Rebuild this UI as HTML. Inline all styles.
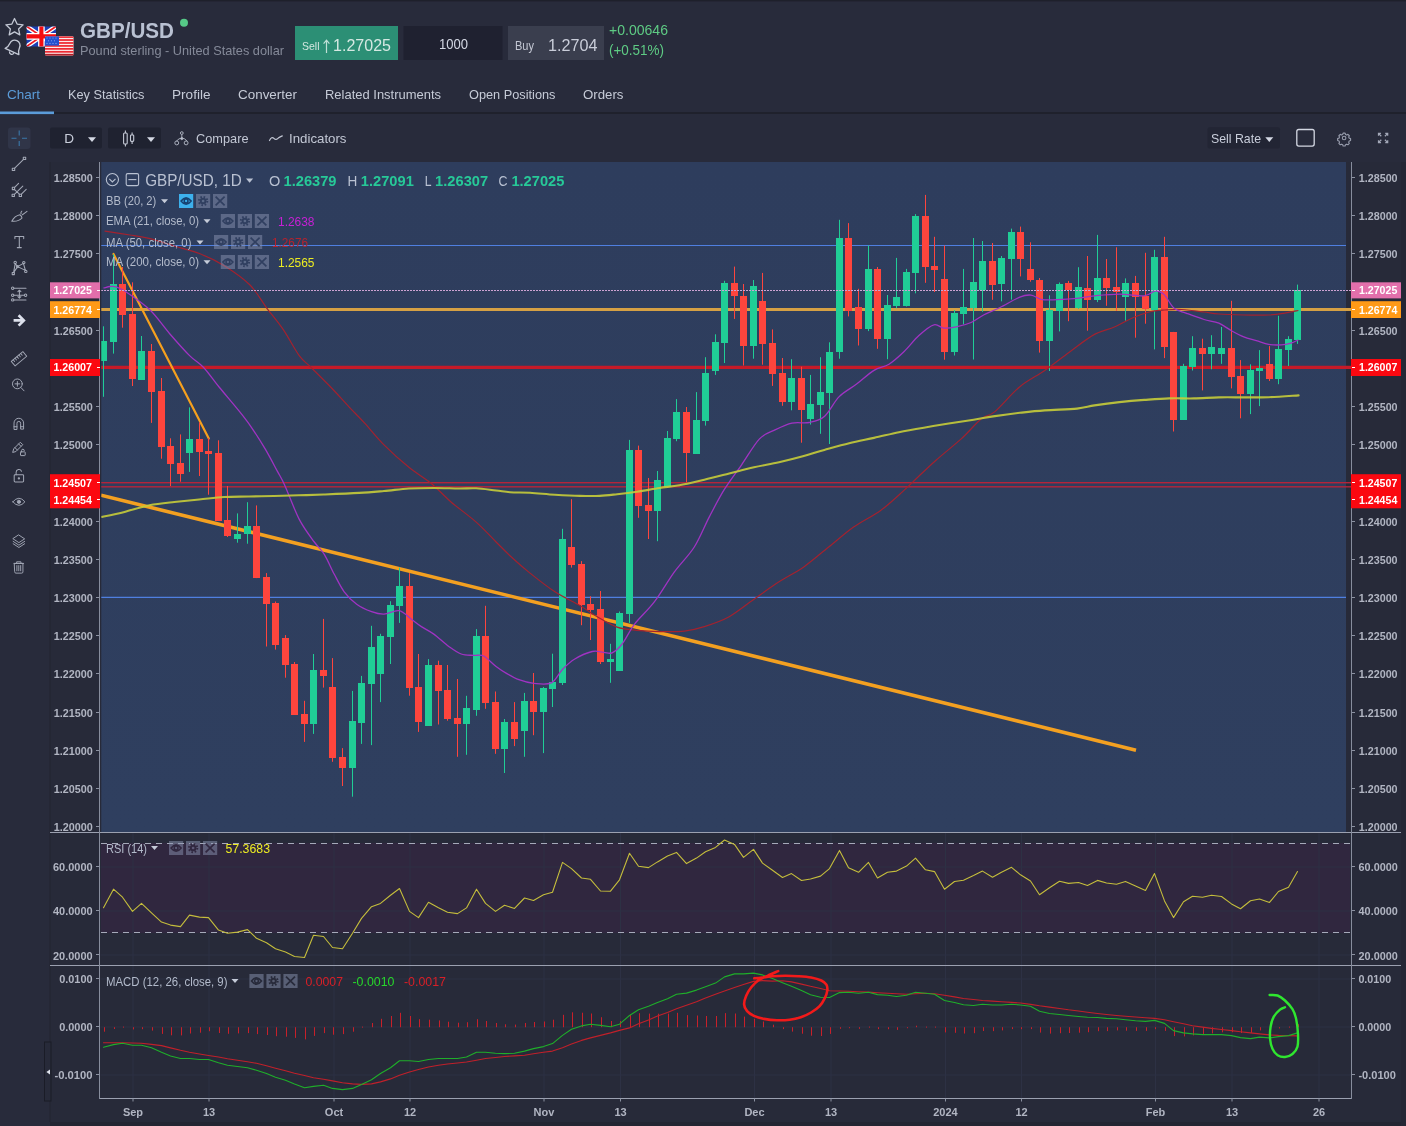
<!DOCTYPE html>
<html><head><meta charset="utf-8"><title>GBP/USD</title>
<style>
html,body{margin:0;padding:0;background:#282b3b;overflow:hidden}
svg{display:block;will-change:transform}
text{font-family:"Liberation Sans",sans-serif;white-space:pre}
</style></head><body>
<svg width="1406" height="1126" viewBox="0 0 1406 1126">
<rect x="0" y="0" width="1406" height="1126" fill="#282b3b"/>
<rect x="0" y="0" width="1406" height="1.4" fill="#1e202b"/>
<path d="M14.5 18.5 l2.6 5.6 6 .7 -4.5 4.1 1.2 6 -5.3 -3 -5.3 3 1.2 -6 -4.5 -4.1 6 -.7z" fill="none" stroke="#c3c8d4" stroke-width="1.3" stroke-linejoin="round"/>
<g transform="translate(14.2 46.6) rotate(24) scale(1.12) translate(-14.7 -47.2)" fill="none" stroke="#c3c8d4" stroke-width="1.2" stroke-linejoin="round" stroke-linecap="round"><path d="M8 52 c1.5-1.5 2-3 2-6 a4.7 4.7 0 0 1 9.4 0 c0 3 .5 4.5 2 6z"/><path d="M12.8 53.2 a2 2 0 0 0 3.8 0"/></g>
<g><clipPath id="ukc"><rect x="26.6" y="26.4" width="29.4" height="20" rx="1.2"/></clipPath><g clip-path="url(#ukc)"><rect x="26" y="26" width="31" height="21" fill="#1c3fb4"/><path d="M26.6 26.4 L56 46.4 M56 26.4 L26.6 46.4" stroke="#fff" stroke-width="4.4"/><path d="M26.6 26.4 L56 46.4 M56 26.4 L26.6 46.4" stroke="#f01820" stroke-width="1.7"/><path d="M41.4 26 V47 M26 36.4 H57" stroke="#fff" stroke-width="6.6"/><path d="M41.4 26 V47 M26 36.4 H57" stroke="#f40c10" stroke-width="4.1"/></g></g>
<g><clipPath id="usc"><rect x="45" y="36.2" width="28.5" height="19.2" rx="1.2"/></clipPath><g clip-path="url(#usc)"><rect x="45" y="36" width="29" height="20" fill="#fbeaea"/>
<rect x="45" y="36.20" width="29" height="1.75" fill="#ee2a32"/>
<rect x="45" y="39.15" width="29" height="1.75" fill="#ee2a32"/>
<rect x="45" y="42.10" width="29" height="1.75" fill="#ee2a32"/>
<rect x="45" y="45.05" width="29" height="1.75" fill="#ee2a32"/>
<rect x="45" y="48.00" width="29" height="1.75" fill="#ee2a32"/>
<rect x="45" y="50.95" width="29" height="1.75" fill="#ee2a32"/>
<rect x="45" y="53.90" width="29" height="1.75" fill="#ee2a32"/>
<rect x="45" y="53.9" width="29" height="1.6" fill="#b02028"/>
<rect x="45" y="36.2" width="14" height="9.4" fill="#2450cf"/>
<circle cx="47" cy="38" r="0.55" fill="#8fa8f0"/>
<circle cx="50" cy="38" r="0.55" fill="#8fa8f0"/>
<circle cx="53" cy="38" r="0.55" fill="#8fa8f0"/>
<circle cx="56" cy="38" r="0.55" fill="#8fa8f0"/>
<circle cx="48.5" cy="40.8" r="0.55" fill="#8fa8f0"/>
<circle cx="51.5" cy="40.8" r="0.55" fill="#8fa8f0"/>
<circle cx="54.5" cy="40.8" r="0.55" fill="#8fa8f0"/>
<circle cx="47" cy="43.4" r="0.55" fill="#8fa8f0"/>
<circle cx="50" cy="43.4" r="0.55" fill="#8fa8f0"/>
<circle cx="53" cy="43.4" r="0.55" fill="#8fa8f0"/>
<circle cx="56" cy="43.4" r="0.55" fill="#8fa8f0"/>
</g></g>
<text x="80" y="38" font-size="22" fill="#b9c1d2" font-weight="bold" text-anchor="start" textLength="94" lengthAdjust="spacingAndGlyphs">GBP/USD</text>
<circle cx="184" cy="22.8" r="4" fill="#56c987"/>
<text x="80" y="55" font-size="13" fill="#858a99" font-weight="normal" text-anchor="start" textLength="204" lengthAdjust="spacingAndGlyphs">Pound sterling - United States dollar</text>
<rect x="295" y="26" width="103" height="34" fill="#2c8f75"/>
<text x="302" y="50" font-size="11" fill="#d2e6df" font-weight="normal" text-anchor="start" textLength="17.5" lengthAdjust="spacingAndGlyphs">Sell</text>
<path d="M326.5 53 V40.5 M323.6 43.6 L326.5 40.2 L329.4 43.6" fill="none" stroke="#bfe0d6" stroke-width="1.2"/>
<text x="333" y="51" font-size="17" fill="#d5e8e2" font-weight="normal" text-anchor="start" textLength="58" lengthAdjust="spacingAndGlyphs">1.27025</text>
<rect x="403.5" y="26" width="99" height="34" fill="#1f2130"/>
<text x="453.5" y="48.5" font-size="14" fill="#d3d7e3" font-weight="normal" text-anchor="middle" textLength="29" lengthAdjust="spacingAndGlyphs">1000</text>
<rect x="508" y="26" width="96" height="34" fill="#3a3e4e"/>
<text x="515" y="50" font-size="12" fill="#c3c7d3" font-weight="normal" text-anchor="start" textLength="19" lengthAdjust="spacingAndGlyphs">Buy</text>
<text x="548" y="51" font-size="17" fill="#c9cdd9" font-weight="normal" text-anchor="start" textLength="49.5" lengthAdjust="spacingAndGlyphs">1.2704</text>
<text x="609" y="35" font-size="14.5" fill="#5ecb84" font-weight="normal" text-anchor="start" textLength="59" lengthAdjust="spacingAndGlyphs">+0.00646</text>
<text x="609" y="55" font-size="14.5" fill="#5ecb84" font-weight="normal" text-anchor="start" textLength="55" lengthAdjust="spacingAndGlyphs">(+0.51%)</text>
<text x="7" y="99" font-size="13.5" fill="#5b9cd9" font-weight="normal" text-anchor="start" textLength="33" lengthAdjust="spacingAndGlyphs">Chart</text>
<text x="68" y="99" font-size="13.5" fill="#c6cbd7" font-weight="normal" text-anchor="start" textLength="76.5" lengthAdjust="spacingAndGlyphs">Key Statistics</text>
<text x="172" y="99" font-size="13.5" fill="#c6cbd7" font-weight="normal" text-anchor="start" textLength="38.5" lengthAdjust="spacingAndGlyphs">Profile</text>
<text x="238" y="99" font-size="13.5" fill="#c6cbd7" font-weight="normal" text-anchor="start" textLength="59" lengthAdjust="spacingAndGlyphs">Converter</text>
<text x="325" y="99" font-size="13.5" fill="#c6cbd7" font-weight="normal" text-anchor="start" textLength="116" lengthAdjust="spacingAndGlyphs">Related Instruments</text>
<text x="469" y="99" font-size="13.5" fill="#c6cbd7" font-weight="normal" text-anchor="start" textLength="86.5" lengthAdjust="spacingAndGlyphs">Open Positions</text>
<text x="583" y="99" font-size="13.5" fill="#c6cbd7" font-weight="normal" text-anchor="start" textLength="40.5" lengthAdjust="spacingAndGlyphs">Orders</text>
<rect x="0" y="112" width="1406" height="2" fill="#1f212c"/>
<rect x="0" y="111.5" width="54" height="2.6" fill="#5b9cd9"/>
<rect x="8" y="127.5" width="22.5" height="21.5" fill="#303548" rx="3"/>
<path d="M19.2 130.5 v5 M19.2 141 v5 M11.5 138.3 h5 M22 138.3 h5" stroke="#3a78ab" stroke-width="1.1" fill="none"/>
<rect x="50" y="127.5" width="52" height="21" fill="#1f2230" rx="2"/>
<text x="64.3" y="143" font-size="13" fill="#c9cedb" font-weight="normal" text-anchor="start" textLength="9.8" lengthAdjust="spacingAndGlyphs">D</text>
<path d="M88 137.3 h8 l-4 4.6z" fill="#d5d9e4"/>
<rect x="108" y="127.5" width="53" height="21" fill="#1f2230" rx="2"/>
<g fill="none" stroke="#c5cad6" stroke-width="1.1"><rect x="123.6" y="133" width="3.6" height="11" rx="1"/><path d="M125.4 130.5 v2.5 M125.4 144 v2.6"/><rect x="130.5" y="135" width="3.2" height="6.4" rx="0.8"/><path d="M132.1 132.6 v2.4 M132.1 141.4 v2.6"/></g>
<path d="M147 137.3 h8 l-4 4.6z" fill="#d5d9e4"/>
<g transform="translate(181.8 138.5) scale(0.92) translate(-181.8 -138.5)" fill="none" stroke="#aeb3c1" stroke-width="1.05"><circle cx="181.8" cy="132.6" r="1.5"/><path d="M181.8 134.2 v3.8 M175.8 141.5 q6-7 12 0"/><path d="M174.2 143.3 a2.1 2.1 0 1 0 4.2 0 a2.1 2.1 0 1 0 -4.2 0 M184.4 143.3 a2.1 2.1 0 1 0 4.2 0 a2.1 2.1 0 1 0 -4.2 0"/><circle cx="181.8" cy="138.6" r="1.2" fill="#c0c5d2"/></g>
<text x="196" y="143" font-size="13.5" fill="#c3c8d5" font-weight="normal" text-anchor="start" textLength="52.5" lengthAdjust="spacingAndGlyphs">Compare</text>
<path d="M269.5 140.5 q2.2-4.5 4.4-2.2 t4.4-.2 q1.8-1.3 4-2.2" fill="none" stroke="#c0c5d2" stroke-width="1.2" stroke-linecap="round"/>
<text x="289" y="143" font-size="13.5" fill="#c3c8d5" font-weight="normal" text-anchor="start" textLength="57.5" lengthAdjust="spacingAndGlyphs">Indicators</text>
<rect x="1207.5" y="127.3" width="72.5" height="21.2" fill="#222534" rx="2"/>
<text x="1211" y="143" font-size="13.5" fill="#c9cedb" font-weight="normal" text-anchor="start" textLength="50" lengthAdjust="spacingAndGlyphs">Sell Rate</text>
<path d="M1265.3 137.3 h8 l-4 4.6z" fill="#d5d9e4"/>
<rect x="1296.8" y="129.5" width="17.4" height="16.6" rx="2" fill="none" stroke="#d3d7e2" stroke-width="1.3"/>
<g transform="translate(1344.1 138) scale(0.78)" fill="none" stroke="#979cac" stroke-width="1.45"><circle r="2.3"/><path d="M-1.3 -6.3 h2.6 l.5 1.7 1.5 .7 1.6 -.8 1.8 1.8 -.8 1.6 .7 1.5 1.7 .5 v2.6 l-1.7 .5 -.7 1.5 .8 1.6 -1.8 1.8 -1.6 -.8 -1.5 .7 -.5 1.7 h-2.6 l-.5 -1.7 -1.5 -.7 -1.6 .8 -1.8 -1.8 .8 -1.6 -.7 -1.5 -1.7 -.5 v-2.6 l1.7 -.5 .7 -1.5 -.8 -1.6 1.8 -1.8 1.6 .8 1.5 -.7z" stroke-linejoin="round"/></g>
<g transform="translate(1383.1 138) scale(0.82)" stroke="#a3a8b8" stroke-width="1.5" fill="none"><path d="M-5.6 -2.6 v-3 h3 M-5.6 -5.6 l3.4 3.4 M5.6 -2.6 v-3 h-3 M5.6 -5.6 l-3.4 3.4 M-5.6 2.6 v3 h3 M-5.6 5.6 l3.4 -3.4 M5.6 2.6 v3 h-3 M5.6 5.6 l-3.4 -3.4"/></g>
<g transform="translate(19 164) scale(1) translate(-19 -164)" fill="none" stroke="#a3a8b6" stroke-width="1.05" stroke-linecap="round" stroke-linejoin="round"><path d="M14.7 168.2 L23.3 159.6"/><rect x="12.3" y="168.2" width="2.4" height="2.4"/><rect x="23.3" y="157.2" width="2.4" height="2.4"/></g>
<g transform="translate(19 190) scale(1) translate(-19 -190)" fill="none" stroke="#a3a8b6" stroke-width="1.05" stroke-linecap="round" stroke-linejoin="round"><path d="M14.6 189.6 L19.4 194.2 M14.6 187.4 L18.6 183.4 M17.2 191.7 L22.8 186.1 M21.4 194.2 L26.2 189.4 M14.4 194.4 L17.2 191.7"/><rect x="12.3" y="187.3" width="2.3" height="2.3"/><rect x="12.1" y="194.2" width="2.3" height="2.3"/><rect x="19.2" y="194.2" width="2.3" height="2.3"/></g>
<g transform="translate(19 216) scale(1) translate(-19 -216)" fill="none" stroke="#a3a8b6" stroke-width="1.05" stroke-linecap="round" stroke-linejoin="round"><path d="M11.8 221.2 q2.8 -5.2 8 -6.4 q2 1.2 2.2 3.2 q-3.2 3.8 -10.2 3.2z M21 213.8 q-.4 -1.6 .8 -2.6 M22.4 214.8 q2.2 -1.4 4.6 -3.4"/></g>
<g transform="translate(19 242) scale(1) translate(-19 -242)" fill="none" stroke="#a3a8b6" stroke-width="1.05" stroke-linecap="round" stroke-linejoin="round"><path d="M14.9 238.6 v-2.2 h8.8 v2.2 M19.3 236.4 v11.2 M17.3 247.6 h4"/></g>
<g transform="translate(19 268) scale(1) translate(-19 -268)" fill="none" stroke="#a3a8b6" stroke-width="1.05" stroke-linecap="round" stroke-linejoin="round"><path d="M13.6 272.6 L15.2 263.6 L17.6 266.6 L23.4 263.4 L25.4 270.4 L17.6 266.6 L13.6 272.6"/><rect x="12.2" y="272.4" width="2.2" height="2.2"/><circle cx="15.2" cy="262.4" r="1.2"/><circle cx="23.8" cy="262.6" r="1.2"/><circle cx="25.8" cy="271.4" r="1.2"/><circle cx="17.6" cy="266.6" r="1.1"/></g>
<g transform="translate(19 294) scale(1) translate(-19 -294)" fill="none" stroke="#a3a8b6" stroke-width="1.05" stroke-linecap="round" stroke-linejoin="round"><path d="M14 288.2 H26 M14 295.2 H24 M14 299.9 H26 M19.4 290.2 V298 M17.9 291.7 l1.5-1.5 1.5 1.5 M17.9 296.6 l1.5 1.5 1.5 -1.5"/><circle cx="12.7" cy="288.2" r="1.2"/><circle cx="12.7" cy="295.2" r="1.2"/><circle cx="25.6" cy="295.2" r="1.2"/><circle cx="12.7" cy="299.9" r="1.2"/></g>
<path d="M13.6 320.4 H22.8 M18.6 315.2 L23.8 320.4 L18.6 325.6" fill="none" stroke="#dde1ec" stroke-width="2.7" stroke-linejoin="miter"/>
<g transform="translate(19 358.8) scale(0.88) translate(-19 -358.8)" fill="none" stroke="#a3a8b6" stroke-width="1.05" stroke-linecap="round" stroke-linejoin="round"><g transform="rotate(-40 19 358.8)"><rect x="10.4" y="355.4" width="17.2" height="6.8"/><path d="M13.2 355.4 v2.6 M16 355.4 v2.6 M18.8 355.4 v2.6 M21.6 355.4 v2.6 M24.4 355.4 v2.6"/></g></g>
<g transform="translate(18.5 385) scale(0.94) translate(-18.5 -385)" fill="none" stroke="#a3a8b6" stroke-width="1.05" stroke-linecap="round" stroke-linejoin="round"><circle cx="17.3" cy="383.8" r="5.2"/><path d="M21.2 387.8 L24.4 391.2 M14.8 383.8 h5 M17.3 381.3 v5"/></g>
<g transform="translate(18.8 423.6) scale(0.92) translate(-18.8 -423.6)" fill="none" stroke="#a3a8b6" stroke-width="1.05" stroke-linecap="round" stroke-linejoin="round"><path d="M13.6 429.6 v-6.6 a5.2 5.2 0 0 1 10.4 0 v6.6 h-3.2 v-6.4 a2 2 0 0 0 -4 0 v6.4z M13.6 427 h3.2 M20.8 427 h3.2"/></g>
<g transform="translate(18.8 449.4) scale(0.94) translate(-18.8 -449.4)" fill="none" stroke="#a3a8b6" stroke-width="1.05" stroke-linecap="round" stroke-linejoin="round"><path d="M12.4 452.2 l1-3.4 7-7 2.6 2.6 -7 7z M14.6 447.4 l2.6 2.6 M18.6 443.6 l2.4 2.4"/><rect x="20.6" y="452" width="5" height="4" rx=".6"/><path d="M21.8 452 v-1.4 a1.4 1.4 0 0 1 2.8 0"/></g>
<g transform="translate(18.8 476) scale(0.96) translate(-18.8 -476)" fill="none" stroke="#a3a8b6" stroke-width="1.05" stroke-linecap="round" stroke-linejoin="round"><rect x="14" y="474.6" width="9.8" height="7.6" rx="1"/><path d="M16 474.6 v-2.6 a2.9 2.9 0 0 1 5.6 -1"/><circle cx="18.9" cy="478.4" r=".7" fill="#a3a8b6"/></g>
<g transform="translate(18.9 501.8) scale(0.9) translate(-18.9 -501.8)" fill="none" stroke="#a3a8b6" stroke-width="1.05" stroke-linecap="round" stroke-linejoin="round"><path d="M12.2 501.8 q6.7 -8 13.4 0 q-6.7 8 -13.4 0z"/><circle cx="18.9" cy="501.8" r="1.8" fill="#a3a8b6"/></g>
<g transform="translate(18.9 541.2) scale(0.9) translate(-18.9 -541.2)" fill="none" stroke="#a3a8b6" stroke-width="1.05" stroke-linecap="round" stroke-linejoin="round"><path d="M18.9 534.4 l6.4 4.2 -6.4 4.2 -6.4 -4.2z M12.5 541.4 l6.4 4.2 6.4 -4.2 M12.5 544 l6.4 4.2 6.4 -4.2"/></g>
<g transform="translate(18.7 567.2) scale(0.9) translate(-18.7 -567.2)" fill="none" stroke="#a3a8b6" stroke-width="1.05" stroke-linecap="round" stroke-linejoin="round"><path d="M14.2 563 h9.2 v9.4 a1.4 1.4 0 0 1 -1.4 1.4 h-6.4 a1.4 1.4 0 0 1 -1.4 -1.4z M13.4 563 h10.8 M16.4 563 v-1.8 h4.8 v1.8 M16.7 565.4 v5.8 M18.8 565.4 v5.8 M20.9 565.4 v5.8"/></g>
<rect x="50" y="162" width="1351" height="960" fill="#272a39"/>
<rect x="50" y="1122" width="1356" height="4" fill="#232532"/>
<rect x="1401" y="162" width="5" height="964" fill="#252735"/>
<rect x="49.5" y="162" width="1" height="960" fill="#222430"/>
<defs><linearGradient id="mg" x1="0" y1="0" x2="0" y2="1"><stop offset="0" stop-color="#2e3d5d"/><stop offset="1" stop-color="#2f3f5f"/></linearGradient></defs>
<rect x="101.3" y="162" width="1244.7" height="670" fill="url(#mg)"/>
<rect x="101" y="843" width="1249" height="90" fill="#30273f"/>
<line x1="133" y1="833" x2="133" y2="1098" stroke="#2d3144" stroke-width="1"/>
<line x1="209" y1="833" x2="209" y2="1098" stroke="#2d3144" stroke-width="1"/>
<line x1="334" y1="833" x2="334" y2="1098" stroke="#2d3144" stroke-width="1"/>
<line x1="410" y1="833" x2="410" y2="1098" stroke="#2d3144" stroke-width="1"/>
<line x1="544" y1="833" x2="544" y2="1098" stroke="#2d3144" stroke-width="1"/>
<line x1="620.5" y1="833" x2="620.5" y2="1098" stroke="#2d3144" stroke-width="1"/>
<line x1="754.5" y1="833" x2="754.5" y2="1098" stroke="#2d3144" stroke-width="1"/>
<line x1="831" y1="833" x2="831" y2="1098" stroke="#2d3144" stroke-width="1"/>
<line x1="945.5" y1="833" x2="945.5" y2="1098" stroke="#2d3144" stroke-width="1"/>
<line x1="1021.5" y1="833" x2="1021.5" y2="1098" stroke="#2d3144" stroke-width="1"/>
<line x1="1155.5" y1="833" x2="1155.5" y2="1098" stroke="#2d3144" stroke-width="1"/>
<line x1="1232" y1="833" x2="1232" y2="1098" stroke="#2d3144" stroke-width="1"/>
<line x1="1319" y1="833" x2="1319" y2="1098" stroke="#2d3144" stroke-width="1"/>
<line x1="100.5" y1="867" x2="1351" y2="867" stroke="#2d3144" stroke-width="1"/>
<line x1="100.5" y1="911" x2="1351" y2="911" stroke="#2d3144" stroke-width="1"/>
<line x1="100.5" y1="955" x2="1351" y2="955" stroke="#2d3144" stroke-width="1"/>
<line x1="100.5" y1="979" x2="1351" y2="979" stroke="#2d3144" stroke-width="1"/>
<line x1="100.5" y1="1027" x2="1351" y2="1027" stroke="#2d3144" stroke-width="1"/>
<line x1="100.5" y1="1075" x2="1351" y2="1075" stroke="#2d3144" stroke-width="1"/>
<rect x="50" y="832" width="1351" height="1" fill="#9ba0b0"/>
<rect x="50" y="965" width="1351" height="1" fill="#9ba0b0"/>
<rect x="99" y="1098" width="1253" height="1" fill="#9ba0b0"/>
<rect x="99" y="162" width="1" height="937" fill="#878d9d"/>
<rect x="1351" y="162" width="1" height="937" fill="#878d9d"/>
<line x1="101" y1="843.5" x2="1350" y2="843.5" stroke="#a6aaba" stroke-width="1" stroke-dasharray="6 5"/>
<line x1="101" y1="932.5" x2="1350" y2="932.5" stroke="#a6aaba" stroke-width="1" stroke-dasharray="6 5"/>
<clipPath id="mc"><rect x="101.3" y="162" width="1249.7" height="670"/></clipPath><g clip-path="url(#mc)">
<line x1="101" y1="245.5" x2="1346" y2="245.5" stroke="#4f7fe0" stroke-width="1.2"/>
<line x1="101" y1="597.4" x2="1346" y2="597.4" stroke="#4f7fe0" stroke-width="1.2"/>
<line x1="100" y1="309.5" x2="1351" y2="309.5" stroke="#d5a044" stroke-width="3.2"/>
<line x1="100" y1="367.3" x2="1351" y2="367.3" stroke="#c61a28" stroke-width="3.2"/>
<rect x="101" y="482.0" width="1250" height="1.4" fill="#b5243a"/>
<rect x="101" y="486.1" width="1250" height="1.4" fill="#b5243a"/>
<line x1="101" y1="495.2" x2="1136" y2="750.3" stroke="#f3a021" stroke-width="3.6"/>
<line x1="113.5" y1="254" x2="208.8" y2="438.5" stroke="#f5a01e" stroke-width="2.2" stroke-linecap="round"/>
<rect x="103" y="326.3" width="1" height="70.5" fill="#20cd96"/>
<rect x="100" y="341" width="7" height="20" fill="#20cd96"/>
<rect x="113" y="254.4" width="1" height="99.2" fill="#20cd96"/>
<rect x="110" y="284" width="7" height="58" fill="#20cd96"/>
<rect x="122" y="267.0" width="1" height="60.7" fill="#fe453d"/>
<rect x="119" y="284" width="7" height="31" fill="#fe453d"/>
<rect x="132" y="282.3" width="1" height="103.7" fill="#fe453d"/>
<rect x="129" y="314" width="7" height="65" fill="#fe453d"/>
<rect x="141" y="336.0" width="1" height="43.9" fill="#20cd96"/>
<rect x="138" y="351" width="7" height="29" fill="#20cd96"/>
<rect x="151" y="344.0" width="1" height="78.9" fill="#fe453d"/>
<rect x="148" y="351" width="7" height="41" fill="#fe453d"/>
<rect x="161" y="378.0" width="1" height="80.7" fill="#fe453d"/>
<rect x="158" y="391" width="7" height="56" fill="#fe453d"/>
<rect x="170" y="438.3" width="1" height="47.7" fill="#fe453d"/>
<rect x="167" y="446" width="7" height="18" fill="#fe453d"/>
<rect x="180" y="434.4" width="1" height="47.3" fill="#fe453d"/>
<rect x="177" y="463" width="7" height="11" fill="#fe453d"/>
<rect x="189" y="407.4" width="1" height="64.5" fill="#20cd96"/>
<rect x="186" y="439" width="7" height="14" fill="#20cd96"/>
<rect x="199" y="422.3" width="1" height="53.7" fill="#fe453d"/>
<rect x="196" y="439" width="7" height="13" fill="#fe453d"/>
<rect x="208" y="438.0" width="1" height="56.7" fill="#fe453d"/>
<rect x="205" y="451" width="7" height="3" fill="#fe453d"/>
<rect x="218" y="440.3" width="1" height="80.5" fill="#fe453d"/>
<rect x="215" y="453" width="7" height="68" fill="#fe453d"/>
<rect x="227" y="486.0" width="1" height="51.0" fill="#fe453d"/>
<rect x="224" y="520" width="7" height="16" fill="#fe453d"/>
<rect x="237" y="513.4" width="1" height="29.3" fill="#20cd96"/>
<rect x="234" y="534" width="7" height="5" fill="#20cd96"/>
<rect x="247" y="502.2" width="1" height="41.5" fill="#20cd96"/>
<rect x="244" y="526" width="7" height="8" fill="#20cd96"/>
<rect x="256" y="505.4" width="1" height="72.7" fill="#fe453d"/>
<rect x="253" y="526" width="7" height="52" fill="#fe453d"/>
<rect x="266" y="573.1" width="1" height="73.4" fill="#fe453d"/>
<rect x="263" y="577" width="7" height="27" fill="#fe453d"/>
<rect x="275" y="601.5" width="1" height="48.1" fill="#fe453d"/>
<rect x="272" y="603" width="7" height="42" fill="#fe453d"/>
<rect x="285" y="635.1" width="1" height="42.6" fill="#fe453d"/>
<rect x="282" y="638" width="7" height="27" fill="#fe453d"/>
<rect x="294" y="662.0" width="1" height="53.0" fill="#fe453d"/>
<rect x="291" y="664" width="7" height="51" fill="#fe453d"/>
<rect x="304" y="700.8" width="1" height="41.1" fill="#fe453d"/>
<rect x="301" y="714" width="7" height="10" fill="#fe453d"/>
<rect x="313" y="654.0" width="1" height="79.9" fill="#20cd96"/>
<rect x="310" y="670" width="7" height="54" fill="#20cd96"/>
<rect x="323" y="618.9" width="1" height="68.7" fill="#fe453d"/>
<rect x="320" y="670" width="7" height="6" fill="#fe453d"/>
<rect x="332" y="658.1" width="1" height="103.7" fill="#fe453d"/>
<rect x="329" y="687" width="7" height="71" fill="#fe453d"/>
<rect x="342" y="748.1" width="1" height="37.9" fill="#fe453d"/>
<rect x="339" y="757" width="7" height="11" fill="#fe453d"/>
<rect x="352" y="690.9" width="1" height="105.8" fill="#20cd96"/>
<rect x="349" y="721" width="7" height="47" fill="#20cd96"/>
<rect x="361" y="675.9" width="1" height="68.0" fill="#20cd96"/>
<rect x="358" y="683" width="7" height="40" fill="#20cd96"/>
<rect x="371" y="625.8" width="1" height="119.3" fill="#20cd96"/>
<rect x="368" y="647" width="7" height="37" fill="#20cd96"/>
<rect x="380" y="633.8" width="1" height="68.3" fill="#20cd96"/>
<rect x="377" y="636" width="7" height="38" fill="#20cd96"/>
<rect x="390" y="601.2" width="1" height="62.8" fill="#20cd96"/>
<rect x="387" y="605" width="7" height="32" fill="#20cd96"/>
<rect x="399" y="567.6" width="1" height="55.3" fill="#20cd96"/>
<rect x="396" y="586" width="7" height="20" fill="#20cd96"/>
<rect x="409" y="573.1" width="1" height="122.6" fill="#fe453d"/>
<rect x="406" y="586" width="7" height="102" fill="#fe453d"/>
<rect x="418" y="654.0" width="1" height="77.9" fill="#fe453d"/>
<rect x="415" y="687" width="7" height="35" fill="#fe453d"/>
<rect x="428" y="659.1" width="1" height="66.6" fill="#20cd96"/>
<rect x="425" y="665" width="7" height="61" fill="#20cd96"/>
<rect x="438" y="660.7" width="1" height="63.8" fill="#fe453d"/>
<rect x="435" y="665" width="7" height="26" fill="#fe453d"/>
<rect x="447" y="665.0" width="1" height="55.7" fill="#fe453d"/>
<rect x="444" y="690" width="7" height="29" fill="#fe453d"/>
<rect x="457" y="679.0" width="1" height="77.8" fill="#fe453d"/>
<rect x="454" y="718" width="7" height="6" fill="#fe453d"/>
<rect x="466" y="695.8" width="1" height="59.0" fill="#20cd96"/>
<rect x="463" y="708" width="7" height="16" fill="#20cd96"/>
<rect x="476" y="629.1" width="1" height="86.7" fill="#20cd96"/>
<rect x="473" y="636" width="7" height="74" fill="#20cd96"/>
<rect x="485" y="605.8" width="1" height="103.0" fill="#fe453d"/>
<rect x="482" y="636" width="7" height="67" fill="#fe453d"/>
<rect x="495" y="691.5" width="1" height="62.3" fill="#fe453d"/>
<rect x="492" y="702" width="7" height="47" fill="#fe453d"/>
<rect x="504" y="719.0" width="1" height="54.0" fill="#20cd96"/>
<rect x="501" y="722" width="7" height="27" fill="#20cd96"/>
<rect x="514" y="702.1" width="1" height="44.0" fill="#fe453d"/>
<rect x="511" y="722" width="7" height="17" fill="#fe453d"/>
<rect x="524" y="692.9" width="1" height="63.9" fill="#20cd96"/>
<rect x="521" y="701" width="7" height="30" fill="#20cd96"/>
<rect x="533" y="673.0" width="1" height="62.2" fill="#fe453d"/>
<rect x="530" y="701" width="7" height="11" fill="#fe453d"/>
<rect x="543" y="687.0" width="1" height="66.1" fill="#20cd96"/>
<rect x="540" y="688" width="7" height="24" fill="#20cd96"/>
<rect x="552" y="653.7" width="1" height="53.3" fill="#20cd96"/>
<rect x="549" y="682" width="7" height="7" fill="#20cd96"/>
<rect x="562" y="528.8" width="1" height="156.2" fill="#20cd96"/>
<rect x="559" y="539" width="7" height="144" fill="#20cd96"/>
<rect x="571" y="499.2" width="1" height="68.4" fill="#fe453d"/>
<rect x="568" y="547" width="7" height="18" fill="#fe453d"/>
<rect x="581" y="561.1" width="1" height="64.1" fill="#fe453d"/>
<rect x="578" y="564" width="7" height="41" fill="#fe453d"/>
<rect x="590" y="596.3" width="1" height="43.7" fill="#fe453d"/>
<rect x="587" y="604" width="7" height="6" fill="#fe453d"/>
<rect x="600" y="591.0" width="1" height="73.0" fill="#fe453d"/>
<rect x="597" y="609" width="7" height="53" fill="#fe453d"/>
<rect x="610" y="643.8" width="1" height="39.0" fill="#20cd96"/>
<rect x="607" y="659" width="7" height="3" fill="#20cd96"/>
<rect x="619" y="611.5" width="1" height="59.3" fill="#20cd96"/>
<rect x="616" y="613" width="7" height="58" fill="#20cd96"/>
<rect x="629" y="439.9" width="1" height="183.0" fill="#20cd96"/>
<rect x="626" y="450" width="7" height="164" fill="#20cd96"/>
<rect x="638" y="445.6" width="1" height="72.2" fill="#fe453d"/>
<rect x="635" y="450" width="7" height="56" fill="#fe453d"/>
<rect x="648" y="478.0" width="1" height="61.0" fill="#fe453d"/>
<rect x="645" y="505" width="7" height="6" fill="#fe453d"/>
<rect x="657" y="471.0" width="1" height="70.2" fill="#20cd96"/>
<rect x="654" y="480" width="7" height="31" fill="#20cd96"/>
<rect x="667" y="431.0" width="1" height="56.2" fill="#20cd96"/>
<rect x="664" y="438" width="7" height="49" fill="#20cd96"/>
<rect x="676" y="399.1" width="1" height="42.1" fill="#20cd96"/>
<rect x="673" y="412" width="7" height="27" fill="#20cd96"/>
<rect x="686" y="407.0" width="1" height="75.2" fill="#fe453d"/>
<rect x="683" y="412" width="7" height="41" fill="#fe453d"/>
<rect x="696" y="392.1" width="1" height="61.6" fill="#20cd96"/>
<rect x="693" y="420" width="7" height="34" fill="#20cd96"/>
<rect x="705" y="357.2" width="1" height="68.4" fill="#20cd96"/>
<rect x="702" y="373" width="7" height="48" fill="#20cd96"/>
<rect x="715" y="334.3" width="1" height="40.6" fill="#20cd96"/>
<rect x="712" y="342" width="7" height="29" fill="#20cd96"/>
<rect x="724" y="280.8" width="1" height="82.2" fill="#20cd96"/>
<rect x="721" y="283" width="7" height="60" fill="#20cd96"/>
<rect x="734" y="266.6" width="1" height="52.3" fill="#fe453d"/>
<rect x="731" y="283" width="7" height="13" fill="#fe453d"/>
<rect x="743" y="284.0" width="1" height="81.5" fill="#fe453d"/>
<rect x="740" y="296" width="7" height="50" fill="#fe453d"/>
<rect x="753" y="280.0" width="1" height="78.7" fill="#20cd96"/>
<rect x="750" y="286" width="7" height="60" fill="#20cd96"/>
<rect x="762" y="272.9" width="1" height="91.8" fill="#fe453d"/>
<rect x="759" y="301" width="7" height="43" fill="#fe453d"/>
<rect x="772" y="329.4" width="1" height="56.5" fill="#fe453d"/>
<rect x="769" y="343" width="7" height="31" fill="#fe453d"/>
<rect x="782" y="358.0" width="1" height="47.8" fill="#fe453d"/>
<rect x="779" y="373" width="7" height="29" fill="#fe453d"/>
<rect x="791" y="359.2" width="1" height="51.1" fill="#20cd96"/>
<rect x="788" y="378" width="7" height="24" fill="#20cd96"/>
<rect x="801" y="366.7" width="1" height="76.0" fill="#fe453d"/>
<rect x="798" y="378" width="7" height="32" fill="#fe453d"/>
<rect x="810" y="374.9" width="1" height="49.6" fill="#20cd96"/>
<rect x="807" y="404" width="7" height="15" fill="#20cd96"/>
<rect x="820" y="357.2" width="1" height="76.6" fill="#20cd96"/>
<rect x="817" y="392" width="7" height="13" fill="#20cd96"/>
<rect x="829" y="342.3" width="1" height="101.7" fill="#20cd96"/>
<rect x="826" y="352" width="7" height="41" fill="#20cd96"/>
<rect x="839" y="219.8" width="1" height="138.9" fill="#20cd96"/>
<rect x="836" y="238" width="7" height="114" fill="#20cd96"/>
<rect x="848" y="223.1" width="1" height="93.3" fill="#fe453d"/>
<rect x="845" y="238" width="7" height="73" fill="#fe453d"/>
<rect x="858" y="288.8" width="1" height="56.7" fill="#fe453d"/>
<rect x="855" y="307" width="7" height="22" fill="#fe453d"/>
<rect x="868" y="245.5" width="1" height="85.6" fill="#20cd96"/>
<rect x="865" y="269" width="7" height="60" fill="#20cd96"/>
<rect x="877" y="267.0" width="1" height="81.8" fill="#fe453d"/>
<rect x="874" y="269" width="7" height="70" fill="#fe453d"/>
<rect x="887" y="295.0" width="1" height="64.2" fill="#20cd96"/>
<rect x="884" y="305" width="7" height="34" fill="#20cd96"/>
<rect x="896" y="257.9" width="1" height="50.3" fill="#20cd96"/>
<rect x="893" y="297" width="7" height="9" fill="#20cd96"/>
<rect x="906" y="268.9" width="1" height="37.6" fill="#20cd96"/>
<rect x="903" y="272" width="7" height="34" fill="#20cd96"/>
<rect x="915" y="214.1" width="1" height="79.2" fill="#20cd96"/>
<rect x="912" y="216" width="7" height="57" fill="#20cd96"/>
<rect x="925" y="194.9" width="1" height="87.9" fill="#fe453d"/>
<rect x="922" y="216" width="7" height="51" fill="#fe453d"/>
<rect x="934" y="236.8" width="1" height="55.2" fill="#fe453d"/>
<rect x="931" y="266" width="7" height="4" fill="#fe453d"/>
<rect x="944" y="245.5" width="1" height="114.2" fill="#fe453d"/>
<rect x="941" y="279" width="7" height="73" fill="#fe453d"/>
<rect x="954" y="310.0" width="1" height="45.5" fill="#20cd96"/>
<rect x="951" y="313" width="7" height="39" fill="#20cd96"/>
<rect x="963" y="268.9" width="1" height="55.5" fill="#20cd96"/>
<rect x="960" y="307" width="7" height="7" fill="#20cd96"/>
<rect x="973" y="238.0" width="1" height="121.5" fill="#20cd96"/>
<rect x="970" y="282" width="7" height="26" fill="#20cd96"/>
<rect x="982" y="241.0" width="1" height="70.7" fill="#20cd96"/>
<rect x="979" y="261" width="7" height="29" fill="#20cd96"/>
<rect x="992" y="243.0" width="1" height="56.8" fill="#fe453d"/>
<rect x="989" y="261" width="7" height="24" fill="#fe453d"/>
<rect x="1001" y="256.0" width="1" height="45.3" fill="#20cd96"/>
<rect x="998" y="258" width="7" height="26" fill="#20cd96"/>
<rect x="1011" y="228.6" width="1" height="71.0" fill="#20cd96"/>
<rect x="1008" y="232" width="7" height="27" fill="#20cd96"/>
<rect x="1020" y="226.6" width="1" height="49.8" fill="#fe453d"/>
<rect x="1017" y="232" width="7" height="27" fill="#fe453d"/>
<rect x="1030" y="242.3" width="1" height="39.4" fill="#fe453d"/>
<rect x="1027" y="269" width="7" height="11" fill="#fe453d"/>
<rect x="1039" y="278.0" width="1" height="74.6" fill="#fe453d"/>
<rect x="1036" y="280" width="7" height="61" fill="#fe453d"/>
<rect x="1049" y="295.3" width="1" height="75.7" fill="#20cd96"/>
<rect x="1046" y="310" width="7" height="31" fill="#20cd96"/>
<rect x="1059" y="282.5" width="1" height="48.9" fill="#20cd96"/>
<rect x="1056" y="284" width="7" height="27" fill="#20cd96"/>
<rect x="1068" y="280.9" width="1" height="40.3" fill="#fe453d"/>
<rect x="1065" y="283" width="7" height="7" fill="#fe453d"/>
<rect x="1078" y="267.2" width="1" height="41.6" fill="#20cd96"/>
<rect x="1075" y="287" width="7" height="21" fill="#20cd96"/>
<rect x="1087" y="256.0" width="1" height="74.7" fill="#fe453d"/>
<rect x="1084" y="288" width="7" height="12" fill="#fe453d"/>
<rect x="1097" y="234.9" width="1" height="67.2" fill="#20cd96"/>
<rect x="1094" y="278" width="7" height="22" fill="#20cd96"/>
<rect x="1106" y="259.0" width="1" height="46.8" fill="#fe453d"/>
<rect x="1103" y="278" width="7" height="10" fill="#fe453d"/>
<rect x="1116" y="247.3" width="1" height="63.5" fill="#fe453d"/>
<rect x="1113" y="287" width="7" height="5" fill="#fe453d"/>
<rect x="1125" y="278.4" width="1" height="42.3" fill="#20cd96"/>
<rect x="1122" y="283" width="7" height="14" fill="#20cd96"/>
<rect x="1135" y="275.9" width="1" height="61.8" fill="#fe453d"/>
<rect x="1132" y="283" width="7" height="14" fill="#fe453d"/>
<rect x="1145" y="252.8" width="1" height="70.9" fill="#fe453d"/>
<rect x="1142" y="296" width="7" height="13" fill="#fe453d"/>
<rect x="1154" y="249.8" width="1" height="99.6" fill="#20cd96"/>
<rect x="1151" y="257" width="7" height="53" fill="#20cd96"/>
<rect x="1164" y="236.8" width="1" height="121.3" fill="#fe453d"/>
<rect x="1161" y="257" width="7" height="90" fill="#fe453d"/>
<rect x="1173" y="331.9" width="1" height="99.6" fill="#fe453d"/>
<rect x="1170" y="332" width="7" height="88" fill="#fe453d"/>
<rect x="1183" y="363.8" width="1" height="56.0" fill="#20cd96"/>
<rect x="1180" y="366" width="7" height="54" fill="#20cd96"/>
<rect x="1192" y="336.2" width="1" height="34.3" fill="#20cd96"/>
<rect x="1189" y="348" width="7" height="19" fill="#20cd96"/>
<rect x="1202" y="338.7" width="1" height="51.7" fill="#fe453d"/>
<rect x="1199" y="348" width="7" height="6" fill="#fe453d"/>
<rect x="1211" y="335.2" width="1" height="34.1" fill="#20cd96"/>
<rect x="1208" y="347" width="7" height="7" fill="#20cd96"/>
<rect x="1221" y="327.0" width="1" height="36.8" fill="#20cd96"/>
<rect x="1218" y="348" width="7" height="6" fill="#20cd96"/>
<rect x="1231" y="300.8" width="1" height="87.6" fill="#fe453d"/>
<rect x="1228" y="348" width="7" height="29" fill="#fe453d"/>
<rect x="1240" y="360.1" width="1" height="58.2" fill="#fe453d"/>
<rect x="1237" y="376" width="7" height="18" fill="#fe453d"/>
<rect x="1250" y="364.3" width="1" height="49.8" fill="#20cd96"/>
<rect x="1247" y="370" width="7" height="24" fill="#20cd96"/>
<rect x="1259" y="350.1" width="1" height="56.0" fill="#20cd96"/>
<rect x="1256" y="368" width="7" height="3" fill="#20cd96"/>
<rect x="1269" y="346.1" width="1" height="34.9" fill="#fe453d"/>
<rect x="1266" y="364" width="7" height="15" fill="#fe453d"/>
<rect x="1278" y="315.8" width="1" height="68.4" fill="#20cd96"/>
<rect x="1275" y="349" width="7" height="30" fill="#20cd96"/>
<rect x="1288" y="336.2" width="1" height="29.8" fill="#20cd96"/>
<rect x="1285" y="339" width="7" height="11" fill="#20cd96"/>
<rect x="1297" y="284.6" width="1" height="59.3" fill="#20cd96"/>
<rect x="1294" y="290" width="7" height="50" fill="#20cd96"/>
<path d="M105.0 231.2 C109.2 231.8 122.5 233.8 130.0 235.0 C137.5 236.2 142.5 236.8 150.0 238.7 C157.5 240.6 166.7 243.7 175.0 246.2 C183.3 248.7 191.7 250.4 200.0 253.7 C208.3 257.0 216.7 261.0 225.0 266.2 C233.3 271.4 242.9 277.9 250.0 285.0 C257.1 292.1 261.8 301.4 267.3 308.8 C272.9 316.2 278.0 321.9 283.3 329.7 C288.6 337.5 294.6 349.3 299.2 355.6 C303.8 361.9 305.9 362.2 311.2 367.5 C316.5 372.8 324.8 380.9 331.1 387.5 C337.4 394.1 343.4 400.8 349.0 406.8 C354.6 412.8 359.1 417.0 364.9 423.4 C370.7 429.8 376.7 437.6 384.0 444.9 C391.3 452.2 401.0 460.9 408.9 467.3 C416.8 473.7 424.2 477.7 431.3 483.5 C438.4 489.3 443.8 495.8 451.3 502.2 C458.8 508.6 468.7 515.5 476.2 522.1 C483.7 528.7 490.5 536.4 496.1 542.0 C501.7 547.6 504.4 550.5 510.0 555.7 C515.6 560.9 522.5 567.1 530.0 573.1 C537.5 579.1 546.6 586.4 554.9 591.8 C563.2 597.2 572.8 601.4 579.8 605.5 C586.8 609.6 591.0 613.1 597.2 616.7 C603.4 620.3 610.5 624.8 617.1 627.1 C623.7 629.4 630.0 629.6 637.0 630.4 C644.0 631.1 651.5 631.5 659.4 631.6 C667.3 631.7 676.8 631.9 684.3 631.1 C691.8 630.3 696.8 629.0 704.3 626.6 C711.8 624.2 720.9 621.3 729.2 616.7 C737.5 612.1 745.7 605.0 754.0 599.2 C762.3 593.4 770.7 587.2 779.0 581.8 C787.3 576.4 795.5 572.7 803.8 566.9 C812.1 561.1 820.4 553.6 828.7 547.0 C837.0 540.4 845.1 533.0 853.6 527.0 C862.1 521.0 872.3 516.4 880.0 510.9 C887.7 505.4 893.7 499.6 900.0 494.0 C906.3 488.4 912.0 482.7 918.0 477.0 C924.0 471.3 929.1 466.4 936.3 460.0 C943.5 453.6 953.7 445.7 961.2 438.9 C968.7 432.1 975.5 423.6 981.1 419.0 C986.7 414.4 988.5 417.0 994.9 411.6 C1001.3 406.2 1011.5 393.6 1019.8 386.7 C1028.1 379.8 1036.4 376.3 1044.7 370.5 C1053.0 364.7 1061.3 357.9 1069.6 351.9 C1077.9 345.9 1087.0 338.5 1094.5 334.4 C1102.0 330.2 1108.2 329.7 1114.4 327.0 C1120.6 324.3 1126.0 320.7 1131.8 318.2 C1137.6 315.7 1143.8 313.4 1149.2 312.0 C1154.6 310.6 1158.8 310.4 1164.2 310.0 C1169.6 309.6 1175.0 309.2 1181.6 309.5 C1188.2 309.8 1197.8 311.2 1204.0 312.0 C1210.2 312.8 1212.3 313.5 1218.9 314.0 C1225.5 314.5 1235.5 314.8 1243.8 315.0 C1252.1 315.2 1262.0 315.3 1268.7 315.0 C1275.4 314.7 1278.8 314.1 1283.7 313.3 C1288.6 312.6 1295.6 311.0 1298.0 310.5" fill="none" stroke="#a3222f" stroke-width="1.2" stroke-linejoin="round" stroke-linecap="round"/>
<path d="M104.0 287.9 C105.0 287.7 108.0 286.7 110.0 286.5 C112.0 286.3 113.3 285.9 116.0 286.8 C118.7 287.7 120.3 288.0 125.9 291.8 C131.5 295.6 142.5 302.8 149.8 309.8 C157.1 316.8 163.1 326.1 169.7 333.7 C176.3 341.3 183.9 350.0 189.6 355.6 C195.2 361.2 198.6 362.2 203.6 367.5 C208.6 372.8 213.5 380.2 219.5 387.5 C225.5 394.8 234.1 404.8 239.4 411.4 C244.7 418.0 247.1 421.0 251.4 427.3 C255.7 433.6 261.0 441.9 265.3 449.2 C269.6 456.5 274.1 465.2 277.3 471.1 C280.5 477.0 280.8 476.6 284.5 484.7 C288.2 492.8 294.4 510.1 299.4 519.6 C304.4 529.1 310.1 536.2 314.3 542.0 C318.5 547.8 321.0 549.0 324.3 554.4 C327.6 559.8 331.0 568.1 334.3 574.3 C337.6 580.5 340.5 586.8 344.2 591.8 C347.9 596.8 352.1 600.9 356.7 604.2 C361.3 607.5 367.1 610.0 371.6 611.7 C376.2 613.4 379.4 614.4 384.0 614.2 C388.6 614.0 394.4 609.8 399.0 610.6 C403.6 611.4 407.7 616.5 411.4 619.2 C415.1 621.9 417.7 624.1 421.4 626.6 C425.1 629.1 429.2 630.8 433.8 634.1 C438.4 637.4 444.2 643.2 448.8 646.5 C453.4 649.8 457.1 652.5 461.2 654.0 C465.3 655.5 470.0 655.1 473.7 655.4 C477.4 655.7 479.9 654.1 483.6 656.0 C487.3 657.9 492.3 663.6 496.1 666.5 C499.9 669.4 502.7 671.2 506.5 673.4 C510.3 675.6 514.3 678.0 518.9 679.7 C523.5 681.4 528.5 682.9 533.9 683.4 C539.3 683.9 546.5 685.2 551.3 682.9 C556.0 680.6 558.5 673.5 562.4 669.5 C566.3 665.5 569.8 662.0 574.8 659.0 C579.8 656.0 587.4 652.6 592.2 651.5 C597.0 650.4 600.3 652.1 603.6 652.3 C606.9 652.5 609.0 654.2 612.1 652.8 C615.2 651.4 618.4 648.8 622.1 644.0 C625.9 639.2 629.2 631.1 634.6 624.1 C640.0 617.1 647.9 610.4 654.5 601.7 C661.1 593.0 667.8 581.0 674.4 571.9 C681.0 562.8 688.5 556.1 694.3 547.0 C700.1 537.9 704.2 526.6 709.2 517.1 C714.2 507.6 718.8 498.4 724.2 489.7 C729.6 481.0 735.7 473.3 741.6 464.8 C747.5 456.3 754.0 444.7 759.5 438.9 C765.0 433.1 769.1 432.8 774.5 430.2 C779.9 427.6 786.1 424.5 791.9 423.2 C797.7 421.9 803.9 423.6 809.3 422.5 C814.7 421.4 819.3 420.8 824.3 416.5 C829.3 412.2 833.8 402.0 839.2 396.6 C844.6 391.2 850.8 388.5 856.6 384.1 C862.4 379.7 868.6 373.7 874.0 370.4 C879.4 367.1 884.0 367.3 889.0 364.2 C894.0 361.1 898.9 356.6 903.9 351.8 C908.9 347.0 913.9 340.1 918.9 335.6 C923.9 331.1 929.6 326.1 933.8 324.9 C937.9 323.6 940.1 327.8 943.8 328.1 C947.5 328.4 951.7 327.8 956.2 326.9 C960.8 326.0 966.5 324.5 971.1 322.5 C975.7 320.5 978.8 317.5 983.6 315.0 C988.4 312.5 994.0 310.5 1000.0 307.5 C1006.0 304.5 1014.6 299.2 1019.8 297.1 C1025.0 295.0 1027.3 294.7 1031.0 295.1 C1034.7 295.5 1037.9 298.9 1042.2 299.6 C1046.5 300.4 1051.3 299.8 1057.1 299.6 C1062.9 299.4 1070.8 298.9 1077.0 298.3 C1083.2 297.7 1087.4 296.5 1094.5 295.8 C1101.6 295.1 1111.1 294.1 1119.4 294.1 C1127.7 294.1 1138.3 296.3 1144.3 295.8 C1150.3 295.3 1152.2 291.1 1155.5 290.9 C1158.8 290.7 1161.1 291.7 1164.2 294.6 C1167.3 297.5 1170.4 305.2 1174.1 308.3 C1177.8 311.4 1181.6 311.4 1186.6 313.3 C1191.6 315.2 1198.6 317.9 1204.0 319.5 C1209.4 321.1 1214.3 321.3 1218.9 323.2 C1223.5 325.1 1227.2 328.4 1231.4 330.7 C1235.6 333.0 1239.7 335.2 1243.8 336.9 C1247.9 338.6 1252.1 339.4 1256.3 340.7 C1260.5 341.9 1264.5 343.7 1268.7 344.4 C1272.9 345.1 1277.5 345.1 1281.2 344.9 C1284.9 344.7 1288.3 343.9 1291.1 343.1 C1293.9 342.3 1296.8 340.5 1298.0 340.0" fill="none" stroke="#a033c3" stroke-width="1.3" stroke-linejoin="round" stroke-linecap="round"/>
<path d="M102.0 516.9 C105.8 516.1 116.6 513.9 124.5 511.9 C132.4 509.9 141.1 506.8 149.4 505.2 C157.7 503.6 166.0 502.9 174.3 502.0 C182.6 501.1 190.9 500.3 199.2 499.5 C207.5 498.7 215.7 497.5 224.0 497.0 C232.3 496.5 240.7 496.7 249.0 496.5 C257.3 496.3 265.5 496.2 273.8 496.0 C282.1 495.8 290.4 495.6 298.7 495.3 C307.0 495.1 313.5 494.9 323.6 494.5 C333.7 494.1 349.1 493.5 359.2 492.9 C369.3 492.3 375.7 491.7 384.0 491.0 C392.3 490.3 400.6 489.0 408.9 488.5 C417.2 488.0 425.5 488.0 433.8 488.0 C442.1 488.0 451.6 488.4 458.7 488.5 C465.8 488.6 470.0 488.0 476.2 488.3 C482.4 488.6 490.5 489.9 496.1 490.5 C501.7 491.1 504.4 491.8 510.0 492.2 C515.6 492.6 522.5 492.3 530.0 492.7 C537.5 493.1 546.6 494.2 554.9 494.7 C563.2 495.2 572.3 495.7 579.8 495.9 C587.3 496.1 593.5 496.2 599.7 495.9 C605.9 495.6 610.9 494.9 617.1 494.2 C623.3 493.5 630.0 492.7 637.0 491.7 C644.0 490.7 652.3 489.1 659.4 488.0 C666.5 486.9 671.9 486.6 679.4 485.2 C686.9 483.8 696.0 481.6 704.3 479.7 C712.6 477.8 720.9 475.6 729.2 473.5 C737.5 471.4 745.7 469.2 754.0 467.3 C762.3 465.4 770.7 464.2 779.0 462.3 C787.3 460.4 796.2 458.2 803.8 456.1 C811.3 454.0 816.7 452.0 824.3 449.9 C831.9 447.8 840.9 445.2 849.2 443.2 C857.5 441.2 865.7 439.7 874.0 437.9 C882.3 436.1 890.6 433.9 898.9 432.2 C907.2 430.5 915.5 429.1 923.8 427.7 C932.1 426.2 940.4 424.8 948.7 423.5 C957.0 422.2 965.9 420.9 973.6 419.7 C981.3 418.5 987.2 417.2 994.9 416.1 C1002.6 415.0 1011.5 413.8 1019.8 412.8 C1028.1 411.9 1035.2 411.1 1044.7 410.4 C1054.2 409.7 1068.7 409.4 1077.0 408.6 C1085.3 407.8 1087.4 406.5 1094.5 405.4 C1101.6 404.3 1111.1 403.0 1119.4 402.1 C1127.7 401.2 1136.0 400.5 1144.3 399.9 C1152.6 399.3 1160.9 398.6 1169.2 398.4 C1177.5 398.1 1185.7 398.6 1194.0 398.4 C1202.3 398.2 1210.6 397.6 1218.9 397.4 C1227.2 397.2 1235.5 397.4 1243.8 397.4 C1252.1 397.4 1259.6 397.5 1268.7 397.2 C1277.8 396.9 1293.6 395.7 1298.6 395.4" fill="none" stroke="#c6cc3a" stroke-width="2.1" stroke-linejoin="round" stroke-linecap="round" opacity="0.9"/>
<line x1="101" y1="290.5" x2="1351" y2="290.5" stroke="#cda3d3" stroke-width="1" stroke-dasharray="2 1"/>
</g>
<g fill="none" stroke="#b9c1d2" stroke-width="1.1"><circle cx="112.4" cy="179.6" r="6.1"/><path d="M109.3 178.8 l3.1 3.1 3.1 -3.1"/><rect x="126.2" y="173.6" width="12.4" height="12" rx="1.5"/><path d="M128.4 179.6 h8"/></g>
<text x="145.2" y="185.8" font-size="16" fill="#b9c1d2" font-weight="normal" text-anchor="start" textLength="96.5" lengthAdjust="spacingAndGlyphs">GBP/USD, 1D</text>
<path d="M246 178.6 h7.2 l-3.6 4.2z" fill="#b9c1d2"/>
<text x="268.9" y="185.6" font-size="14.5" fill="#b9c1d2" font-weight="normal" text-anchor="start" textLength="11.3" lengthAdjust="spacingAndGlyphs">O</text>
<text x="283.5" y="185.6" font-size="14.3" fill="#27c998" font-weight="bold" text-anchor="start" textLength="53" lengthAdjust="spacingAndGlyphs">1.26379</text>
<text x="347.5" y="185.6" font-size="14.5" fill="#b9c1d2" font-weight="normal" text-anchor="start" textLength="9.8" lengthAdjust="spacingAndGlyphs">H</text>
<text x="360.8" y="185.6" font-size="14.3" fill="#27c998" font-weight="bold" text-anchor="start" textLength="53" lengthAdjust="spacingAndGlyphs">1.27091</text>
<text x="424.8" y="185.6" font-size="14.5" fill="#b9c1d2" font-weight="normal" text-anchor="start" textLength="6.8" lengthAdjust="spacingAndGlyphs">L</text>
<text x="435.1" y="185.6" font-size="14.3" fill="#27c998" font-weight="bold" text-anchor="start" textLength="53" lengthAdjust="spacingAndGlyphs">1.26307</text>
<text x="498.6" y="185.6" font-size="14.5" fill="#b9c1d2" font-weight="normal" text-anchor="start" textLength="9" lengthAdjust="spacingAndGlyphs">C</text>
<text x="511.4" y="185.6" font-size="14.3" fill="#27c998" font-weight="bold" text-anchor="start" textLength="53" lengthAdjust="spacingAndGlyphs">1.27025</text>
<text x="106" y="205.3" font-size="12.5" fill="#b3bbcb" font-weight="normal" text-anchor="start" textLength="50.3" lengthAdjust="spacingAndGlyphs">BB (20, 2)</text>
<path d="M161 199.3 h7 l-3.5 4z" fill="#c5cbd8"/>
<rect x="179" y="194" width="14.2" height="14" fill="#3db0ec"/>
<path d="M181.1 201 q5 -6.4 10 0 q-5 6.4 -10 0z" fill="none" stroke="#17406f" stroke-width="1.7" stroke-linejoin="round"/><circle cx="186.1" cy="201" r="1.9" fill="none" stroke="#17406f" stroke-width="1.5"/>
<rect x="196" y="194" width="14.2" height="14" fill="#8a94b2" fill-opacity="0.5"/>
<circle cx="203.1" cy="201" r="4.2" fill="none" stroke="#303f60" stroke-width="1.9" stroke-dasharray="1.55 1.75"/><circle cx="203.1" cy="201" r="3.3" fill="#303f60"/><circle cx="203.1" cy="201" r="1.35" fill="#5b6a88"/>
<rect x="213" y="194" width="14.2" height="14" fill="#8a94b2" fill-opacity="0.5"/>
<path d="M215.6 196.6 L224.6 205.4 M224.6 196.6 L215.6 205.4" stroke="#303f60" stroke-width="1.7"/>
<text x="106" y="224.8" font-size="12.5" fill="#b3bbcb" font-weight="normal" text-anchor="start" textLength="93" lengthAdjust="spacingAndGlyphs">EMA (21, close, 0)</text>
<path d="M203.5 219.3 h7 l-3.5 4z" fill="#c5cbd8"/>
<rect x="220.8" y="214" width="14.2" height="14" fill="#8a94b2" fill-opacity="0.5"/>
<path d="M222.9 221 q5 -6.4 10 0 q-5 6.4 -10 0z" fill="none" stroke="#303f60" stroke-width="1.7" stroke-linejoin="round"/><circle cx="227.9" cy="221" r="1.9" fill="none" stroke="#303f60" stroke-width="1.5"/>
<rect x="237.8" y="214" width="14.2" height="14" fill="#8a94b2" fill-opacity="0.5"/>
<circle cx="244.9" cy="221" r="4.2" fill="none" stroke="#303f60" stroke-width="1.9" stroke-dasharray="1.55 1.75"/><circle cx="244.9" cy="221" r="3.3" fill="#303f60"/><circle cx="244.9" cy="221" r="1.35" fill="#5b6a88"/>
<rect x="254.8" y="214" width="14.2" height="14" fill="#8a94b2" fill-opacity="0.5"/>
<path d="M257.40000000000003 216.6 L266.40000000000003 225.4 M266.40000000000003 216.6 L257.40000000000003 225.4" stroke="#303f60" stroke-width="1.7"/>
<text x="278" y="226" font-size="12.5" fill="#c81fd6" font-weight="normal" text-anchor="start" textLength="36.5" lengthAdjust="spacingAndGlyphs">1.2638</text>
<text x="106" y="246.6" font-size="12.5" fill="#b3bbcb" font-weight="normal" text-anchor="start" textLength="85.5" lengthAdjust="spacingAndGlyphs">MA (50, close, 0)</text>
<path d="M196.5 240.5 h7 l-3.5 4z" fill="#c5cbd8"/>
<rect x="214" y="235" width="14.2" height="14" fill="#8a94b2" fill-opacity="0.5"/>
<path d="M216.1 242 q5 -6.4 10 0 q-5 6.4 -10 0z" fill="none" stroke="#303f60" stroke-width="1.7" stroke-linejoin="round"/><circle cx="221.1" cy="242" r="1.9" fill="none" stroke="#303f60" stroke-width="1.5"/>
<rect x="231" y="235" width="14.2" height="14" fill="#8a94b2" fill-opacity="0.5"/>
<circle cx="238.1" cy="242" r="4.2" fill="none" stroke="#303f60" stroke-width="1.9" stroke-dasharray="1.55 1.75"/><circle cx="238.1" cy="242" r="3.3" fill="#303f60"/><circle cx="238.1" cy="242" r="1.35" fill="#5b6a88"/>
<rect x="248" y="235" width="14.2" height="14" fill="#8a94b2" fill-opacity="0.5"/>
<path d="M250.6 237.6 L259.6 246.4 M259.6 237.6 L250.6 246.4" stroke="#303f60" stroke-width="1.7"/>
<text x="272" y="247" font-size="12.5" fill="#b5222e" font-weight="normal" text-anchor="start" textLength="36" lengthAdjust="spacingAndGlyphs">1.2676</text>
<text x="106" y="266.4" font-size="12.5" fill="#b3bbcb" font-weight="normal" text-anchor="start" textLength="93" lengthAdjust="spacingAndGlyphs">MA (200, close, 0)</text>
<path d="M203.5 260.3 h7 l-3.5 4z" fill="#c5cbd8"/>
<rect x="220.8" y="255" width="14.2" height="14" fill="#8a94b2" fill-opacity="0.5"/>
<path d="M222.9 262 q5 -6.4 10 0 q-5 6.4 -10 0z" fill="none" stroke="#303f60" stroke-width="1.7" stroke-linejoin="round"/><circle cx="227.9" cy="262" r="1.9" fill="none" stroke="#303f60" stroke-width="1.5"/>
<rect x="237.8" y="255" width="14.2" height="14" fill="#8a94b2" fill-opacity="0.5"/>
<circle cx="244.9" cy="262" r="4.2" fill="none" stroke="#303f60" stroke-width="1.9" stroke-dasharray="1.55 1.75"/><circle cx="244.9" cy="262" r="3.3" fill="#303f60"/><circle cx="244.9" cy="262" r="1.35" fill="#5b6a88"/>
<rect x="254.8" y="255" width="14.2" height="14" fill="#8a94b2" fill-opacity="0.5"/>
<path d="M257.40000000000003 257.6 L266.40000000000003 266.4 M266.40000000000003 257.6 L257.40000000000003 266.4" stroke="#303f60" stroke-width="1.7"/>
<text x="278" y="266.8" font-size="12.5" fill="#ecec22" font-weight="normal" text-anchor="start" textLength="36.5" lengthAdjust="spacingAndGlyphs">1.2565</text>
<text x="53.7" y="182.0" font-size="11" fill="#b1b5c2" font-weight="bold" text-anchor="start" textLength="39" lengthAdjust="spacingAndGlyphs">1.28500</text>
<text x="1358.8" y="182.0" font-size="11" fill="#b1b5c2" font-weight="bold" text-anchor="start" textLength="38.8" lengthAdjust="spacingAndGlyphs">1.28500</text>
<rect x="96" y="177" width="3" height="1" fill="#8b91a1"/>
<rect x="1352" y="177" width="3" height="1" fill="#8b91a1"/>
<text x="53.7" y="220.18" font-size="11" fill="#b1b5c2" font-weight="bold" text-anchor="start" textLength="39" lengthAdjust="spacingAndGlyphs">1.28000</text>
<text x="1358.8" y="220.18" font-size="11" fill="#b1b5c2" font-weight="bold" text-anchor="start" textLength="38.8" lengthAdjust="spacingAndGlyphs">1.28000</text>
<rect x="96" y="215" width="3" height="1" fill="#8b91a1"/>
<rect x="1352" y="215" width="3" height="1" fill="#8b91a1"/>
<text x="53.7" y="258.36" font-size="11" fill="#b1b5c2" font-weight="bold" text-anchor="start" textLength="39" lengthAdjust="spacingAndGlyphs">1.27500</text>
<text x="1358.8" y="258.36" font-size="11" fill="#b1b5c2" font-weight="bold" text-anchor="start" textLength="38.8" lengthAdjust="spacingAndGlyphs">1.27500</text>
<rect x="96" y="253" width="3" height="1" fill="#8b91a1"/>
<rect x="1352" y="253" width="3" height="1" fill="#8b91a1"/>
<text x="53.7" y="296.53999999999996" font-size="11" fill="#b1b5c2" font-weight="bold" text-anchor="start" textLength="39" lengthAdjust="spacingAndGlyphs">1.27000</text>
<text x="1358.8" y="296.53999999999996" font-size="11" fill="#b1b5c2" font-weight="bold" text-anchor="start" textLength="38.8" lengthAdjust="spacingAndGlyphs">1.27000</text>
<rect x="96" y="292" width="3" height="1" fill="#8b91a1"/>
<rect x="1352" y="292" width="3" height="1" fill="#8b91a1"/>
<text x="53.7" y="334.72" font-size="11" fill="#b1b5c2" font-weight="bold" text-anchor="start" textLength="39" lengthAdjust="spacingAndGlyphs">1.26500</text>
<text x="1358.8" y="334.72" font-size="11" fill="#b1b5c2" font-weight="bold" text-anchor="start" textLength="38.8" lengthAdjust="spacingAndGlyphs">1.26500</text>
<rect x="96" y="330" width="3" height="1" fill="#8b91a1"/>
<rect x="1352" y="330" width="3" height="1" fill="#8b91a1"/>
<text x="53.7" y="372.9" font-size="11" fill="#b1b5c2" font-weight="bold" text-anchor="start" textLength="39" lengthAdjust="spacingAndGlyphs">1.26000</text>
<text x="1358.8" y="372.9" font-size="11" fill="#b1b5c2" font-weight="bold" text-anchor="start" textLength="38.8" lengthAdjust="spacingAndGlyphs">1.26000</text>
<rect x="96" y="368" width="3" height="1" fill="#8b91a1"/>
<rect x="1352" y="368" width="3" height="1" fill="#8b91a1"/>
<text x="53.7" y="411.08" font-size="11" fill="#b1b5c2" font-weight="bold" text-anchor="start" textLength="39" lengthAdjust="spacingAndGlyphs">1.25500</text>
<text x="1358.8" y="411.08" font-size="11" fill="#b1b5c2" font-weight="bold" text-anchor="start" textLength="38.8" lengthAdjust="spacingAndGlyphs">1.25500</text>
<rect x="96" y="406" width="3" height="1" fill="#8b91a1"/>
<rect x="1352" y="406" width="3" height="1" fill="#8b91a1"/>
<text x="53.7" y="449.26" font-size="11" fill="#b1b5c2" font-weight="bold" text-anchor="start" textLength="39" lengthAdjust="spacingAndGlyphs">1.25000</text>
<text x="1358.8" y="449.26" font-size="11" fill="#b1b5c2" font-weight="bold" text-anchor="start" textLength="38.8" lengthAdjust="spacingAndGlyphs">1.25000</text>
<rect x="96" y="444" width="3" height="1" fill="#8b91a1"/>
<rect x="1352" y="444" width="3" height="1" fill="#8b91a1"/>
<text x="53.7" y="487.44" font-size="11" fill="#b1b5c2" font-weight="bold" text-anchor="start" textLength="39" lengthAdjust="spacingAndGlyphs">1.24500</text>
<text x="1358.8" y="487.44" font-size="11" fill="#b1b5c2" font-weight="bold" text-anchor="start" textLength="38.8" lengthAdjust="spacingAndGlyphs">1.24500</text>
<rect x="96" y="482" width="3" height="1" fill="#8b91a1"/>
<rect x="1352" y="482" width="3" height="1" fill="#8b91a1"/>
<text x="53.7" y="525.62" font-size="11" fill="#b1b5c2" font-weight="bold" text-anchor="start" textLength="39" lengthAdjust="spacingAndGlyphs">1.24000</text>
<text x="1358.8" y="525.62" font-size="11" fill="#b1b5c2" font-weight="bold" text-anchor="start" textLength="38.8" lengthAdjust="spacingAndGlyphs">1.24000</text>
<rect x="96" y="521" width="3" height="1" fill="#8b91a1"/>
<rect x="1352" y="521" width="3" height="1" fill="#8b91a1"/>
<text x="53.7" y="563.8" font-size="11" fill="#b1b5c2" font-weight="bold" text-anchor="start" textLength="39" lengthAdjust="spacingAndGlyphs">1.23500</text>
<text x="1358.8" y="563.8" font-size="11" fill="#b1b5c2" font-weight="bold" text-anchor="start" textLength="38.8" lengthAdjust="spacingAndGlyphs">1.23500</text>
<rect x="96" y="559" width="3" height="1" fill="#8b91a1"/>
<rect x="1352" y="559" width="3" height="1" fill="#8b91a1"/>
<text x="53.7" y="601.98" font-size="11" fill="#b1b5c2" font-weight="bold" text-anchor="start" textLength="39" lengthAdjust="spacingAndGlyphs">1.23000</text>
<text x="1358.8" y="601.98" font-size="11" fill="#b1b5c2" font-weight="bold" text-anchor="start" textLength="38.8" lengthAdjust="spacingAndGlyphs">1.23000</text>
<rect x="96" y="597" width="3" height="1" fill="#8b91a1"/>
<rect x="1352" y="597" width="3" height="1" fill="#8b91a1"/>
<text x="53.7" y="640.16" font-size="11" fill="#b1b5c2" font-weight="bold" text-anchor="start" textLength="39" lengthAdjust="spacingAndGlyphs">1.22500</text>
<text x="1358.8" y="640.16" font-size="11" fill="#b1b5c2" font-weight="bold" text-anchor="start" textLength="38.8" lengthAdjust="spacingAndGlyphs">1.22500</text>
<rect x="96" y="635" width="3" height="1" fill="#8b91a1"/>
<rect x="1352" y="635" width="3" height="1" fill="#8b91a1"/>
<text x="53.7" y="678.3399999999999" font-size="11" fill="#b1b5c2" font-weight="bold" text-anchor="start" textLength="39" lengthAdjust="spacingAndGlyphs">1.22000</text>
<text x="1358.8" y="678.3399999999999" font-size="11" fill="#b1b5c2" font-weight="bold" text-anchor="start" textLength="38.8" lengthAdjust="spacingAndGlyphs">1.22000</text>
<rect x="96" y="673" width="3" height="1" fill="#8b91a1"/>
<rect x="1352" y="673" width="3" height="1" fill="#8b91a1"/>
<text x="53.7" y="716.52" font-size="11" fill="#b1b5c2" font-weight="bold" text-anchor="start" textLength="39" lengthAdjust="spacingAndGlyphs">1.21500</text>
<text x="1358.8" y="716.52" font-size="11" fill="#b1b5c2" font-weight="bold" text-anchor="start" textLength="38.8" lengthAdjust="spacingAndGlyphs">1.21500</text>
<rect x="96" y="712" width="3" height="1" fill="#8b91a1"/>
<rect x="1352" y="712" width="3" height="1" fill="#8b91a1"/>
<text x="53.7" y="754.7" font-size="11" fill="#b1b5c2" font-weight="bold" text-anchor="start" textLength="39" lengthAdjust="spacingAndGlyphs">1.21000</text>
<text x="1358.8" y="754.7" font-size="11" fill="#b1b5c2" font-weight="bold" text-anchor="start" textLength="38.8" lengthAdjust="spacingAndGlyphs">1.21000</text>
<rect x="96" y="750" width="3" height="1" fill="#8b91a1"/>
<rect x="1352" y="750" width="3" height="1" fill="#8b91a1"/>
<text x="53.7" y="792.88" font-size="11" fill="#b1b5c2" font-weight="bold" text-anchor="start" textLength="39" lengthAdjust="spacingAndGlyphs">1.20500</text>
<text x="1358.8" y="792.88" font-size="11" fill="#b1b5c2" font-weight="bold" text-anchor="start" textLength="38.8" lengthAdjust="spacingAndGlyphs">1.20500</text>
<rect x="96" y="788" width="3" height="1" fill="#8b91a1"/>
<rect x="1352" y="788" width="3" height="1" fill="#8b91a1"/>
<text x="53.7" y="831.06" font-size="11" fill="#b1b5c2" font-weight="bold" text-anchor="start" textLength="39" lengthAdjust="spacingAndGlyphs">1.20000</text>
<text x="1358.8" y="831.06" font-size="11" fill="#b1b5c2" font-weight="bold" text-anchor="start" textLength="38.8" lengthAdjust="spacingAndGlyphs">1.20000</text>
<rect x="96" y="826" width="3" height="1" fill="#8b91a1"/>
<rect x="1352" y="826" width="3" height="1" fill="#8b91a1"/>
<rect x="50" y="282.3" width="50" height="16.099999999999966" fill="#e26fab"/>
<rect x="1351" y="282.3" width="50" height="16.099999999999966" fill="#e26fab"/>
<text x="53.4" y="294.3" font-size="11" fill="#ffffff" font-weight="bold" text-anchor="start" textLength="38.6" lengthAdjust="spacingAndGlyphs">1.27025</text>
<text x="1359" y="294.3" font-size="11" fill="#ffffff" font-weight="bold" text-anchor="start" textLength="38.3" lengthAdjust="spacingAndGlyphs">1.27025</text>
<rect x="97" y="290" width="3" height="1" fill="#ffffff"/>
<rect x="1352" y="290" width="3" height="1" fill="#ffffff"/>
<rect x="50" y="301.2" width="50" height="16.80000000000001" fill="#ff9a17"/>
<rect x="1351" y="301.2" width="50" height="16.80000000000001" fill="#ff9a17"/>
<text x="53.4" y="313.6" font-size="11" fill="#ffffff" font-weight="bold" text-anchor="start" textLength="38.6" lengthAdjust="spacingAndGlyphs">1.26774</text>
<text x="1359" y="313.6" font-size="11" fill="#ffffff" font-weight="bold" text-anchor="start" textLength="38.3" lengthAdjust="spacingAndGlyphs">1.26774</text>
<rect x="97" y="309" width="3" height="1" fill="#ffffff"/>
<rect x="1352" y="309" width="3" height="1" fill="#ffffff"/>
<rect x="50" y="359" width="50" height="17" fill="#fb0810"/>
<rect x="1351" y="359" width="50" height="17" fill="#fb0810"/>
<text x="53.4" y="371.4" font-size="11" fill="#ffffff" font-weight="bold" text-anchor="start" textLength="38.6" lengthAdjust="spacingAndGlyphs">1.26007</text>
<text x="1359" y="371.4" font-size="11" fill="#ffffff" font-weight="bold" text-anchor="start" textLength="38.3" lengthAdjust="spacingAndGlyphs">1.26007</text>
<rect x="97" y="367" width="3" height="1" fill="#ffffff"/>
<rect x="1352" y="367" width="3" height="1" fill="#ffffff"/>
<rect x="50" y="474.2" width="50" height="34.10000000000002" fill="#fb0810"/>
<rect x="1351" y="474.2" width="50" height="34.10000000000002" fill="#fb0810"/>
<text x="53.4" y="486.7" font-size="11" fill="#ffffff" font-weight="bold" text-anchor="start" textLength="38.6" lengthAdjust="spacingAndGlyphs">1.24507</text>
<text x="1359" y="486.7" font-size="11" fill="#ffffff" font-weight="bold" text-anchor="start" textLength="38.3" lengthAdjust="spacingAndGlyphs">1.24507</text>
<rect x="97" y="482" width="3" height="1" fill="#ffffff"/>
<rect x="1352" y="482" width="3" height="1" fill="#ffffff"/>
<text x="53.4" y="503.7" font-size="11" fill="#ffffff" font-weight="bold" text-anchor="start" textLength="38.6" lengthAdjust="spacingAndGlyphs">1.24454</text>
<text x="1359" y="503.7" font-size="11" fill="#ffffff" font-weight="bold" text-anchor="start" textLength="38.3" lengthAdjust="spacingAndGlyphs">1.24454</text>
<rect x="97" y="499" width="3" height="1" fill="#ffffff"/>
<rect x="1352" y="499" width="3" height="1" fill="#ffffff"/>
<clipPath id="rc"><rect x="100.5" y="833" width="1250" height="132"/></clipPath><g clip-path="url(#rc)">
<polyline points="103.5,907.7 113.5,889.2 122.5,897.2 132.5,911.4 141.5,903.4 151.5,912.9 161.5,922.1 170.5,925.1 180.5,926.6 189.5,915.1 199.5,917.1 208.5,917.6 218.5,930.1 227.5,933.3 237.5,932.1 247.5,929.6 256.5,938.3 266.5,942.8 275.5,948.7 285.5,952.0 294.5,956.5 304.5,957.5 313.5,935.3 323.5,936.5 332.5,947.5 342.5,948.7 352.5,933.3 361.5,918.4 371.5,906.7 380.5,903.4 390.5,895.2 399.5,888.5 409.5,911.4 418.5,917.6 428.5,902.2 438.5,907.7 447.5,912.2 457.5,913.6 466.5,907.9 476.5,889.2 485.5,903.4 495.5,911.4 504.5,905.2 514.5,908.4 524.5,898.0 533.5,900.5 543.5,894.7 552.5,892.2 562.5,862.4 571.5,868.6 581.5,878.0 590.5,879.3 600.5,891.0 610.5,891.2 619.5,879.8 629.5,853.2 638.5,866.3 648.5,867.6 657.5,861.9 667.5,856.1 676.5,852.4 686.5,863.6 696.5,858.1 705.5,851.7 715.5,847.4 724.5,840.0 734.5,844.4 743.5,857.4 753.5,849.4 762.5,863.1 772.5,870.3 782.5,877.5 791.5,873.6 801.5,880.5 810.5,879.0 820.5,876.1 829.5,868.6 839.5,850.4 848.5,867.8 858.5,872.3 868.5,862.4 877.5,878.0 887.5,872.3 896.5,871.1 906.5,866.1 915.5,858.1 925.5,869.8 934.5,871.6 944.5,889.2 954.5,881.5 963.5,880.3 973.5,875.6 982.5,871.1 992.5,877.3 1001.5,872.3 1011.5,867.3 1020.5,874.8 1030.5,881.0 1039.5,894.7 1049.5,887.8 1059.5,881.2 1068.5,883.4 1078.5,882.5 1087.5,885.5 1097.5,880.4 1106.5,883.0 1116.5,884.3 1125.5,881.4 1135.5,886.0 1145.5,890.5 1154.5,873.6 1164.5,900.9 1173.5,917.6 1183.5,901.7 1192.5,896.2 1202.5,897.2 1211.5,895.2 1221.5,896.5 1231.5,903.9 1240.5,908.7 1250.5,900.7 1259.5,899.0 1269.5,902.4 1278.5,891.5 1288.5,887.3 1297.5,871.6" fill="none" stroke="#c4bd3c" stroke-width="1.1" stroke-linejoin="round" stroke-linecap="round"/>
</g>
<text x="106" y="852.8" font-size="12.5" fill="#b3bbcb" font-weight="normal" text-anchor="start" textLength="41" lengthAdjust="spacingAndGlyphs">RSI (14)</text>
<path d="M151 846 h7 l-3.5 4z" fill="#c5cbd8"/>
<rect x="169" y="841" width="14.2" height="14" fill="#8a94b2" fill-opacity="0.5"/>
<path d="M171.1 848 q5 -6.4 10 0 q-5 6.4 -10 0z" fill="none" stroke="#30273f" stroke-width="1.7" stroke-linejoin="round"/><circle cx="176.1" cy="848" r="1.9" fill="none" stroke="#30273f" stroke-width="1.5"/>
<rect x="186" y="841" width="14.2" height="14" fill="#8a94b2" fill-opacity="0.5"/>
<circle cx="193.1" cy="848" r="4.2" fill="none" stroke="#30273f" stroke-width="1.9" stroke-dasharray="1.55 1.75"/><circle cx="193.1" cy="848" r="3.3" fill="#30273f"/><circle cx="193.1" cy="848" r="1.35" fill="#5d5876"/>
<rect x="203" y="841" width="14.2" height="14" fill="#8a94b2" fill-opacity="0.5"/>
<path d="M205.6 843.6 L214.6 852.4 M214.6 843.6 L205.6 852.4" stroke="#30273f" stroke-width="1.7"/>
<text x="225.5" y="853" font-size="12.5" fill="#ecec22" font-weight="normal" text-anchor="start" textLength="44.5" lengthAdjust="spacingAndGlyphs">57.3683</text>
<text x="53" y="871" font-size="11" fill="#b1b5c2" font-weight="bold" text-anchor="start" textLength="39.6" lengthAdjust="spacingAndGlyphs">60.0000</text>
<text x="1358.6" y="871" font-size="11" fill="#b1b5c2" font-weight="bold" text-anchor="start" textLength="39.2" lengthAdjust="spacingAndGlyphs">60.0000</text>
<rect x="96" y="866" width="3" height="1" fill="#8b91a1"/>
<rect x="1352" y="866" width="3" height="1" fill="#8b91a1"/>
<text x="53" y="915" font-size="11" fill="#b1b5c2" font-weight="bold" text-anchor="start" textLength="39.6" lengthAdjust="spacingAndGlyphs">40.0000</text>
<text x="1358.6" y="915" font-size="11" fill="#b1b5c2" font-weight="bold" text-anchor="start" textLength="39.2" lengthAdjust="spacingAndGlyphs">40.0000</text>
<rect x="96" y="910" width="3" height="1" fill="#8b91a1"/>
<rect x="1352" y="910" width="3" height="1" fill="#8b91a1"/>
<text x="53" y="960.4" font-size="11" fill="#b1b5c2" font-weight="bold" text-anchor="start" textLength="39.6" lengthAdjust="spacingAndGlyphs">20.0000</text>
<text x="1358.6" y="960.4" font-size="11" fill="#b1b5c2" font-weight="bold" text-anchor="start" textLength="39.2" lengthAdjust="spacingAndGlyphs">20.0000</text>
<rect x="96" y="954" width="3" height="1" fill="#8b91a1"/>
<rect x="1352" y="954" width="3" height="1" fill="#8b91a1"/>
<rect x="104" y="1027.2" width="1" height="4.5" fill="#c8202a"/>
<rect x="114" y="1027.2" width="1" height="1.8" fill="#c8202a"/>
<rect x="123" y="1026.6" width="1" height="1" fill="#c8202a"/>
<rect x="133" y="1027.2" width="1" height="2.2" fill="#c8202a"/>
<rect x="142" y="1027.2" width="1" height="2.0" fill="#c8202a"/>
<rect x="152" y="1027.2" width="1" height="3.4" fill="#c8202a"/>
<rect x="162" y="1027.2" width="1" height="6.7" fill="#c8202a"/>
<rect x="171" y="1027.2" width="1" height="8.1" fill="#c8202a"/>
<rect x="181" y="1027.2" width="1" height="8.2" fill="#c8202a"/>
<rect x="190" y="1027.2" width="1" height="6.3" fill="#c8202a"/>
<rect x="200" y="1027.2" width="1" height="5.5" fill="#c8202a"/>
<rect x="209" y="1027.2" width="1" height="4.0" fill="#c8202a"/>
<rect x="219" y="1027.2" width="1" height="5.8" fill="#c8202a"/>
<rect x="228" y="1027.2" width="1" height="6.6" fill="#c8202a"/>
<rect x="238" y="1027.2" width="1" height="6.2" fill="#c8202a"/>
<rect x="248" y="1027.2" width="1" height="5.9" fill="#c8202a"/>
<rect x="257" y="1027.2" width="1" height="6.9" fill="#c8202a"/>
<rect x="267" y="1027.2" width="1" height="7.8" fill="#c8202a"/>
<rect x="276" y="1027.2" width="1" height="9.0" fill="#c8202a"/>
<rect x="286" y="1027.2" width="1" height="9.5" fill="#c8202a"/>
<rect x="295" y="1027.2" width="1" height="10.7" fill="#c8202a"/>
<rect x="305" y="1027.2" width="1" height="12.2" fill="#c8202a"/>
<rect x="314" y="1027.2" width="1" height="8.7" fill="#c8202a"/>
<rect x="324" y="1027.2" width="1" height="5.9" fill="#c8202a"/>
<rect x="333" y="1027.2" width="1" height="7.5" fill="#c8202a"/>
<rect x="343" y="1027.2" width="1" height="6.9" fill="#c8202a"/>
<rect x="353" y="1027.2" width="1" height="4.5" fill="#c8202a"/>
<rect x="362" y="1026.6" width="1" height="1" fill="#c8202a"/>
<rect x="372" y="1023.0" width="1" height="4.2" fill="#c8202a"/>
<rect x="381" y="1018.8" width="1" height="8.4" fill="#c8202a"/>
<rect x="391" y="1016.0" width="1" height="11.2" fill="#c8202a"/>
<rect x="400" y="1012.8" width="1" height="14.4" fill="#c8202a"/>
<rect x="410" y="1016.0" width="1" height="11.2" fill="#c8202a"/>
<rect x="419" y="1019.2" width="1" height="8.0" fill="#c8202a"/>
<rect x="429" y="1019.7" width="1" height="7.5" fill="#c8202a"/>
<rect x="439" y="1020.4" width="1" height="6.8" fill="#c8202a"/>
<rect x="448" y="1021.7" width="1" height="5.5" fill="#c8202a"/>
<rect x="458" y="1022.7" width="1" height="4.5" fill="#c8202a"/>
<rect x="467" y="1022.2" width="1" height="5.0" fill="#c8202a"/>
<rect x="477" y="1019.2" width="1" height="8.0" fill="#c8202a"/>
<rect x="486" y="1021.0" width="1" height="6.2" fill="#c8202a"/>
<rect x="496" y="1023.0" width="1" height="4.2" fill="#c8202a"/>
<rect x="505" y="1024.3" width="1" height="2.9" fill="#c8202a"/>
<rect x="515" y="1024.6" width="1" height="2.6" fill="#c8202a"/>
<rect x="525" y="1023.0" width="1" height="4.2" fill="#c8202a"/>
<rect x="534" y="1022.0" width="1" height="5.2" fill="#c8202a"/>
<rect x="544" y="1021.5" width="1" height="5.7" fill="#c8202a"/>
<rect x="553" y="1019.7" width="1" height="7.5" fill="#c8202a"/>
<rect x="563" y="1014.8" width="1" height="12.4" fill="#c8202a"/>
<rect x="572" y="1012.3" width="1" height="14.9" fill="#c8202a"/>
<rect x="582" y="1012.7" width="1" height="14.5" fill="#c8202a"/>
<rect x="591" y="1013.5" width="1" height="13.7" fill="#c8202a"/>
<rect x="601" y="1017.2" width="1" height="10.0" fill="#c8202a"/>
<rect x="611" y="1021.0" width="1" height="6.2" fill="#c8202a"/>
<rect x="620" y="1021.0" width="1" height="6.2" fill="#c8202a"/>
<rect x="630" y="1014.8" width="1" height="12.4" fill="#c8202a"/>
<rect x="639" y="1013.2" width="1" height="14.0" fill="#c8202a"/>
<rect x="649" y="1013.6" width="1" height="13.6" fill="#c8202a"/>
<rect x="658" y="1013.7" width="1" height="13.5" fill="#c8202a"/>
<rect x="668" y="1013.6" width="1" height="13.6" fill="#c8202a"/>
<rect x="677" y="1012.8" width="1" height="14.4" fill="#c8202a"/>
<rect x="687" y="1015.1" width="1" height="12.1" fill="#c8202a"/>
<rect x="697" y="1015.5" width="1" height="11.7" fill="#c8202a"/>
<rect x="706" y="1016.0" width="1" height="11.2" fill="#c8202a"/>
<rect x="716" y="1016.0" width="1" height="11.2" fill="#c8202a"/>
<rect x="725" y="1013.1" width="1" height="14.1" fill="#c8202a"/>
<rect x="735" y="1013.5" width="1" height="13.7" fill="#c8202a"/>
<rect x="744" y="1016.6" width="1" height="10.6" fill="#c8202a"/>
<rect x="754" y="1018.9" width="1" height="8.3" fill="#c8202a"/>
<rect x="763" y="1021.5" width="1" height="5.7" fill="#c8202a"/>
<rect x="773" y="1024.7" width="1" height="2.5" fill="#c8202a"/>
<rect x="783" y="1027.2" width="1" height="1.9" fill="#c8202a"/>
<rect x="792" y="1027.2" width="1" height="4.4" fill="#c8202a"/>
<rect x="802" y="1027.2" width="1" height="6.5" fill="#c8202a"/>
<rect x="811" y="1027.2" width="1" height="8.5" fill="#c8202a"/>
<rect x="821" y="1027.2" width="1" height="8.8" fill="#c8202a"/>
<rect x="830" y="1027.2" width="1" height="6.7" fill="#c8202a"/>
<rect x="840" y="1027.2" width="1" height="1.6" fill="#c8202a"/>
<rect x="849" y="1027.2" width="1" height="1.0" fill="#c8202a"/>
<rect x="859" y="1027.2" width="1" height="1.6" fill="#c8202a"/>
<rect x="869" y="1026.6" width="1" height="1" fill="#c8202a"/>
<rect x="878" y="1027.2" width="1" height="1.9" fill="#c8202a"/>
<rect x="888" y="1027.2" width="1" height="2.0" fill="#c8202a"/>
<rect x="897" y="1027.2" width="1" height="2.7" fill="#c8202a"/>
<rect x="907" y="1027.2" width="1" height="1.0" fill="#c8202a"/>
<rect x="916" y="1025.7" width="1" height="1.5" fill="#c8202a"/>
<rect x="926" y="1026.6" width="1" height="1" fill="#c8202a"/>
<rect x="935" y="1026.6" width="1" height="1" fill="#c8202a"/>
<rect x="945" y="1027.2" width="1" height="5.2" fill="#c8202a"/>
<rect x="955" y="1027.2" width="1" height="5.6" fill="#c8202a"/>
<rect x="964" y="1027.2" width="1" height="6.3" fill="#c8202a"/>
<rect x="974" y="1027.2" width="1" height="6.0" fill="#c8202a"/>
<rect x="983" y="1027.2" width="1" height="3.8" fill="#c8202a"/>
<rect x="993" y="1027.2" width="1" height="3.9" fill="#c8202a"/>
<rect x="1002" y="1027.2" width="1" height="3.2" fill="#c8202a"/>
<rect x="1012" y="1027.2" width="1" height="1.9" fill="#c8202a"/>
<rect x="1021" y="1027.2" width="1" height="2.0" fill="#c8202a"/>
<rect x="1031" y="1027.2" width="1" height="1.9" fill="#c8202a"/>
<rect x="1040" y="1027.2" width="1" height="5.4" fill="#c8202a"/>
<rect x="1050" y="1027.2" width="1" height="6.4" fill="#c8202a"/>
<rect x="1060" y="1027.2" width="1" height="6.0" fill="#c8202a"/>
<rect x="1069" y="1027.2" width="1" height="5.8" fill="#c8202a"/>
<rect x="1079" y="1027.2" width="1" height="5.5" fill="#c8202a"/>
<rect x="1088" y="1027.2" width="1" height="5.0" fill="#c8202a"/>
<rect x="1098" y="1027.2" width="1" height="4.0" fill="#c8202a"/>
<rect x="1107" y="1027.2" width="1" height="3.9" fill="#c8202a"/>
<rect x="1117" y="1027.2" width="1" height="3.2" fill="#c8202a"/>
<rect x="1126" y="1027.2" width="1" height="3.5" fill="#c8202a"/>
<rect x="1136" y="1027.2" width="1" height="3.7" fill="#c8202a"/>
<rect x="1146" y="1027.2" width="1" height="3.7" fill="#c8202a"/>
<rect x="1155" y="1027.2" width="1" height="2.0" fill="#c8202a"/>
<rect x="1165" y="1027.2" width="1" height="3.7" fill="#c8202a"/>
<rect x="1174" y="1027.2" width="1" height="8.9" fill="#c8202a"/>
<rect x="1184" y="1027.2" width="1" height="9.2" fill="#c8202a"/>
<rect x="1193" y="1027.2" width="1" height="8.2" fill="#c8202a"/>
<rect x="1203" y="1027.2" width="1" height="7.5" fill="#c8202a"/>
<rect x="1212" y="1027.2" width="1" height="6.2" fill="#c8202a"/>
<rect x="1222" y="1027.2" width="1" height="5.1" fill="#c8202a"/>
<rect x="1232" y="1027.2" width="1" height="5.0" fill="#c8202a"/>
<rect x="1241" y="1027.2" width="1" height="5.8" fill="#c8202a"/>
<rect x="1251" y="1027.2" width="1" height="5.7" fill="#c8202a"/>
<rect x="1260" y="1027.2" width="1" height="3.2" fill="#c8202a"/>
<rect x="1270" y="1027.2" width="1" height="3.0" fill="#c8202a"/>
<rect x="1279" y="1027.2" width="1" height="1.2" fill="#c8202a"/>
<rect x="1289" y="1026.6" width="1" height="1" fill="#c8202a"/>
<rect x="1298" y="1024.2" width="1" height="3.0" fill="#c8202a"/>
<polyline points="103.5,1042.8 113.5,1042.8 122.5,1042.8 132.5,1043.0 141.5,1043.3 151.5,1044.4 161.5,1045.6 170.5,1047.9 180.5,1050.3 189.5,1052.2 199.5,1054.0 208.5,1055.5 218.5,1057.0 227.5,1058.7 237.5,1060.3 247.5,1061.8 256.5,1063.3 266.5,1065.8 275.5,1068.2 285.5,1070.7 294.5,1073.2 304.5,1075.5 313.5,1077.7 323.5,1079.3 332.5,1080.9 342.5,1082.7 352.5,1083.9 361.5,1084.4 371.5,1083.9 380.5,1081.9 390.5,1078.9 399.5,1075.2 409.5,1072.0 418.5,1069.5 428.5,1067.0 438.5,1065.3 447.5,1064.0 457.5,1063.0 466.5,1062.0 476.5,1060.2 485.5,1058.5 495.5,1057.5 504.5,1056.5 514.5,1055.9 524.5,1055.3 533.5,1053.8 543.5,1052.3 552.5,1051.1 562.5,1047.8 571.5,1044.1 581.5,1040.4 590.5,1037.9 600.5,1035.4 610.5,1032.9 619.5,1030.4 629.5,1027.9 638.5,1023.7 648.5,1019.9 657.5,1016.0 667.5,1012.4 676.5,1008.7 686.5,1005.2 696.5,1001.8 705.5,998.0 715.5,994.3 724.5,991.0 734.5,987.6 743.5,984.5 753.5,981.4 762.5,980.6 772.5,981.1 782.5,980.8 791.5,981.9 801.5,984.1 810.5,986.3 820.5,988.5 829.5,990.8 839.5,991.0 848.5,991.3 858.5,991.7 868.5,992.1 877.5,992.7 887.5,993.3 896.5,993.8 906.5,994.3 915.5,993.8 925.5,993.3 934.5,993.8 944.5,995.3 954.5,996.9 963.5,998.5 973.5,999.5 982.5,1000.5 992.5,1001.1 1001.5,1001.8 1011.5,1002.4 1020.5,1003.0 1030.5,1004.4 1039.5,1005.8 1049.5,1007.1 1059.5,1008.5 1068.5,1009.8 1078.5,1011.0 1087.5,1012.2 1097.5,1013.5 1106.5,1014.5 1116.5,1015.5 1125.5,1016.2 1135.5,1017.0 1145.5,1017.7 1154.5,1018.4 1164.5,1019.7 1173.5,1021.7 1183.5,1023.7 1192.5,1025.7 1202.5,1027.1 1211.5,1028.4 1221.5,1029.5 1231.5,1030.6 1240.5,1031.8 1250.5,1032.9 1259.5,1033.9 1269.5,1034.9 1278.5,1035.4 1288.5,1035.6 1297.5,1035.9" fill="none" stroke="#c0202a" stroke-width="1.1" stroke-linejoin="round" stroke-linecap="round"/>
<polyline points="103.5,1047.3 113.5,1044.6 122.5,1043.3 132.5,1045.3 141.5,1045.3 151.5,1047.8 161.5,1052.3 170.5,1056.0 180.5,1058.5 189.5,1058.5 199.5,1059.5 208.5,1059.5 218.5,1062.8 227.5,1065.3 237.5,1066.5 247.5,1067.7 256.5,1070.2 266.5,1073.5 275.5,1077.2 285.5,1080.2 294.5,1083.9 304.5,1087.7 313.5,1086.4 323.5,1085.2 332.5,1088.4 342.5,1089.6 352.5,1088.4 361.5,1084.4 371.5,1079.7 380.5,1073.5 390.5,1067.7 399.5,1060.8 409.5,1060.8 418.5,1061.5 428.5,1059.5 438.5,1058.5 447.5,1058.5 457.5,1058.5 466.5,1057.0 476.5,1052.3 485.5,1052.3 495.5,1053.3 504.5,1053.6 514.5,1053.3 524.5,1051.1 533.5,1048.6 543.5,1046.6 552.5,1043.6 562.5,1035.4 571.5,1029.2 581.5,1025.9 590.5,1024.2 600.5,1025.4 610.5,1026.7 619.5,1024.2 629.5,1015.5 638.5,1009.7 648.5,1006.3 657.5,1002.5 667.5,998.8 676.5,994.3 686.5,993.1 696.5,990.1 705.5,986.8 715.5,983.1 724.5,976.9 734.5,973.9 743.5,973.9 753.5,973.1 762.5,974.9 772.5,978.6 782.5,982.7 791.5,986.3 801.5,990.6 810.5,994.8 820.5,997.3 829.5,997.5 839.5,992.6 848.5,992.3 858.5,993.3 868.5,992.3 877.5,994.6 887.5,995.3 896.5,996.5 906.5,995.3 915.5,992.3 925.5,993.3 934.5,994.3 944.5,1000.5 954.5,1002.5 963.5,1004.8 973.5,1005.5 982.5,1004.3 992.5,1005.0 1001.5,1005.0 1011.5,1004.3 1020.5,1005.0 1030.5,1006.3 1039.5,1011.2 1049.5,1013.5 1059.5,1014.5 1068.5,1015.5 1078.5,1016.5 1087.5,1017.2 1097.5,1017.5 1106.5,1018.4 1116.5,1018.7 1125.5,1019.7 1135.5,1020.7 1145.5,1021.4 1154.5,1020.4 1164.5,1023.4 1173.5,1030.6 1183.5,1032.9 1192.5,1033.9 1202.5,1034.6 1211.5,1034.6 1221.5,1034.6 1231.5,1035.6 1240.5,1037.6 1250.5,1038.6 1259.5,1037.1 1269.5,1037.9 1278.5,1036.6 1288.5,1035.6 1297.5,1032.9" fill="none" stroke="#1fae2a" stroke-width="1.1" stroke-linejoin="round" stroke-linecap="round"/>
<text x="106" y="985.7" font-size="12.5" fill="#b3bbcb" font-weight="normal" text-anchor="start" textLength="121.5" lengthAdjust="spacingAndGlyphs">MACD (12, 26, close, 9)</text>
<path d="M231.5 979 h7 l-3.5 4z" fill="#c5cbd8"/>
<rect x="249.4" y="974" width="14.2" height="14" fill="#8a94b2" fill-opacity="0.5"/>
<path d="M251.5 981 q5 -6.4 10 0 q-5 6.4 -10 0z" fill="none" stroke="#282b3b" stroke-width="1.7" stroke-linejoin="round"/><circle cx="256.5" cy="981" r="1.9" fill="none" stroke="#282b3b" stroke-width="1.5"/>
<rect x="266.4" y="974" width="14.2" height="14" fill="#8a94b2" fill-opacity="0.5"/>
<circle cx="273.5" cy="981" r="4.2" fill="none" stroke="#282b3b" stroke-width="1.9" stroke-dasharray="1.55 1.75"/><circle cx="273.5" cy="981" r="3.3" fill="#282b3b"/><circle cx="273.5" cy="981" r="1.35" fill="#575c70"/>
<rect x="283.4" y="974" width="14.2" height="14" fill="#8a94b2" fill-opacity="0.5"/>
<path d="M286.0 976.6 L295.0 985.4 M295.0 976.6 L286.0 985.4" stroke="#282b3b" stroke-width="1.7"/>
<text x="305.5" y="986" font-size="12.5" fill="#d81f27" font-weight="normal" text-anchor="start" textLength="37.5" lengthAdjust="spacingAndGlyphs">0.0007</text>
<text x="352.5" y="986" font-size="12.5" fill="#27d62b" font-weight="normal" text-anchor="start" textLength="42" lengthAdjust="spacingAndGlyphs">-0.0010</text>
<text x="404" y="986" font-size="12.5" fill="#d81f27" font-weight="normal" text-anchor="start" textLength="42" lengthAdjust="spacingAndGlyphs">-0.0017</text>
<text x="59.2" y="983" font-size="11" fill="#b1b5c2" font-weight="bold" text-anchor="start" textLength="33.4" lengthAdjust="spacingAndGlyphs">0.0100</text>
<text x="1358.4" y="983" font-size="11" fill="#b1b5c2" font-weight="bold" text-anchor="start" textLength="32.8" lengthAdjust="spacingAndGlyphs">0.0100</text>
<rect x="96" y="978" width="3" height="1" fill="#8b91a1"/>
<rect x="1352" y="978" width="3" height="1" fill="#8b91a1"/>
<text x="59.2" y="1031" font-size="11" fill="#b1b5c2" font-weight="bold" text-anchor="start" textLength="33.4" lengthAdjust="spacingAndGlyphs">0.0000</text>
<text x="1358.4" y="1031" font-size="11" fill="#b1b5c2" font-weight="bold" text-anchor="start" textLength="32.8" lengthAdjust="spacingAndGlyphs">0.0000</text>
<rect x="96" y="1026" width="3" height="1" fill="#8b91a1"/>
<rect x="1352" y="1026" width="3" height="1" fill="#8b91a1"/>
<text x="54.5" y="1079" font-size="11" fill="#b1b5c2" font-weight="bold" text-anchor="start" textLength="38.1" lengthAdjust="spacingAndGlyphs">-0.0100</text>
<text x="1358.4" y="1079" font-size="11" fill="#b1b5c2" font-weight="bold" text-anchor="start" textLength="37.5" lengthAdjust="spacingAndGlyphs">-0.0100</text>
<rect x="96" y="1074" width="3" height="1" fill="#8b91a1"/>
<rect x="1352" y="1074" width="3" height="1" fill="#8b91a1"/>
<path d="M778.2 971.1 C776.4 971.9 770.9 974.2 767.6 975.8 C764.3 977.4 760.9 978.6 758.2 980.5 C755.5 982.4 753.3 984.8 751.3 987.3 C749.3 989.8 747.4 992.9 746.2 995.8 C745.0 998.6 744.0 1001.8 744.1 1004.4 C744.2 1007.0 745.5 1009.3 747.1 1011.2 C748.7 1013.1 751.1 1014.6 753.9 1015.9 C756.7 1017.2 760.3 1018.2 764.1 1018.9 C767.9 1019.6 772.6 1020.1 776.9 1020.2 C781.2 1020.3 785.7 1020.2 789.7 1019.7 C793.7 1019.2 797.2 1018.4 800.8 1017.2 C804.4 1016.0 808.0 1014.4 811.1 1012.5 C814.2 1010.6 817.3 1008.5 819.6 1006.1 C821.9 1003.8 823.4 1001.0 824.7 998.4 C826.0 995.8 827.0 993.0 827.3 990.7 C827.6 988.4 827.4 986.4 826.4 984.7 C825.4 983.0 823.8 981.7 821.3 980.5 C818.8 979.3 814.9 978.2 811.1 977.5 C807.3 976.8 802.6 976.5 798.3 976.2 C794.0 975.9 789.8 975.8 785.5 975.8 C781.2 975.8 776.6 975.9 772.7 976.2 C768.9 976.5 765.5 977.1 762.4 977.5 C759.3 977.9 755.6 978.2 754.3 978.3" fill="none" stroke="#f21a1a" stroke-width="2.6" stroke-linejoin="round" stroke-linecap="round"/>
<path d="M1269.6 995.0 C1270.9 995.1 1275.0 994.6 1277.6 995.5 C1280.2 996.4 1282.5 998.2 1285.0 1000.5 C1287.5 1002.8 1290.6 1006.1 1292.5 1009.2 C1294.4 1012.3 1295.3 1015.1 1296.2 1019.2 C1297.1 1023.4 1297.8 1029.5 1298.0 1034.1 C1298.2 1038.7 1298.4 1043.3 1297.5 1046.6 C1296.6 1049.9 1294.6 1052.3 1292.5 1054.0 C1290.4 1055.7 1287.5 1056.8 1285.0 1057.0 C1282.5 1057.2 1279.7 1056.6 1277.6 1055.3 C1275.5 1054.0 1273.8 1051.8 1272.6 1049.1 C1271.3 1046.4 1270.4 1042.8 1270.1 1039.1 C1269.8 1035.4 1270.0 1030.4 1270.6 1026.7 C1271.2 1023.0 1272.2 1019.5 1273.8 1016.7 C1275.4 1013.9 1278.1 1011.3 1280.0 1009.7 C1281.9 1008.1 1284.2 1007.6 1285.0 1007.2" fill="none" stroke="#2fe62f" stroke-width="2.4" stroke-linejoin="round" stroke-linecap="round"/>
<text x="133" y="1116" font-size="11" fill="#b1b5c2" font-weight="bold" text-anchor="middle">Sep</text>
<rect x="132.5" y="1098.5" width="1" height="3" fill="#8b91a1"/>
<text x="209" y="1116" font-size="11" fill="#b1b5c2" font-weight="bold" text-anchor="middle">13</text>
<rect x="208.5" y="1098.5" width="1" height="3" fill="#8b91a1"/>
<text x="334" y="1116" font-size="11" fill="#b1b5c2" font-weight="bold" text-anchor="middle">Oct</text>
<rect x="333.5" y="1098.5" width="1" height="3" fill="#8b91a1"/>
<text x="410" y="1116" font-size="11" fill="#b1b5c2" font-weight="bold" text-anchor="middle">12</text>
<rect x="409.5" y="1098.5" width="1" height="3" fill="#8b91a1"/>
<text x="544" y="1116" font-size="11" fill="#b1b5c2" font-weight="bold" text-anchor="middle">Nov</text>
<rect x="543.5" y="1098.5" width="1" height="3" fill="#8b91a1"/>
<text x="620.5" y="1116" font-size="11" fill="#b1b5c2" font-weight="bold" text-anchor="middle">13</text>
<rect x="620.0" y="1098.5" width="1" height="3" fill="#8b91a1"/>
<text x="754.5" y="1116" font-size="11" fill="#b1b5c2" font-weight="bold" text-anchor="middle">Dec</text>
<rect x="754.0" y="1098.5" width="1" height="3" fill="#8b91a1"/>
<text x="831" y="1116" font-size="11" fill="#b1b5c2" font-weight="bold" text-anchor="middle">13</text>
<rect x="830.5" y="1098.5" width="1" height="3" fill="#8b91a1"/>
<text x="945.5" y="1116" font-size="11" fill="#b1b5c2" font-weight="bold" text-anchor="middle">2024</text>
<rect x="945.0" y="1098.5" width="1" height="3" fill="#8b91a1"/>
<text x="1021.5" y="1116" font-size="11" fill="#b1b5c2" font-weight="bold" text-anchor="middle">12</text>
<rect x="1021.0" y="1098.5" width="1" height="3" fill="#8b91a1"/>
<text x="1155.5" y="1116" font-size="11" fill="#b1b5c2" font-weight="bold" text-anchor="middle">Feb</text>
<rect x="1155.0" y="1098.5" width="1" height="3" fill="#8b91a1"/>
<text x="1232" y="1116" font-size="11" fill="#b1b5c2" font-weight="bold" text-anchor="middle">13</text>
<rect x="1231.5" y="1098.5" width="1" height="3" fill="#8b91a1"/>
<text x="1319" y="1116" font-size="11" fill="#b1b5c2" font-weight="bold" text-anchor="middle">26</text>
<rect x="1318.5" y="1098.5" width="1" height="3" fill="#8b91a1"/>
<rect x="44.5" y="1042" width="6.5" height="59" fill="#272a39" stroke="#1a1c27" stroke-width="1"/>
<path d="M50 1069.5 v5 l-3.6 -2.5z" fill="#dfe3ec"/>
</svg>
</body></html>
